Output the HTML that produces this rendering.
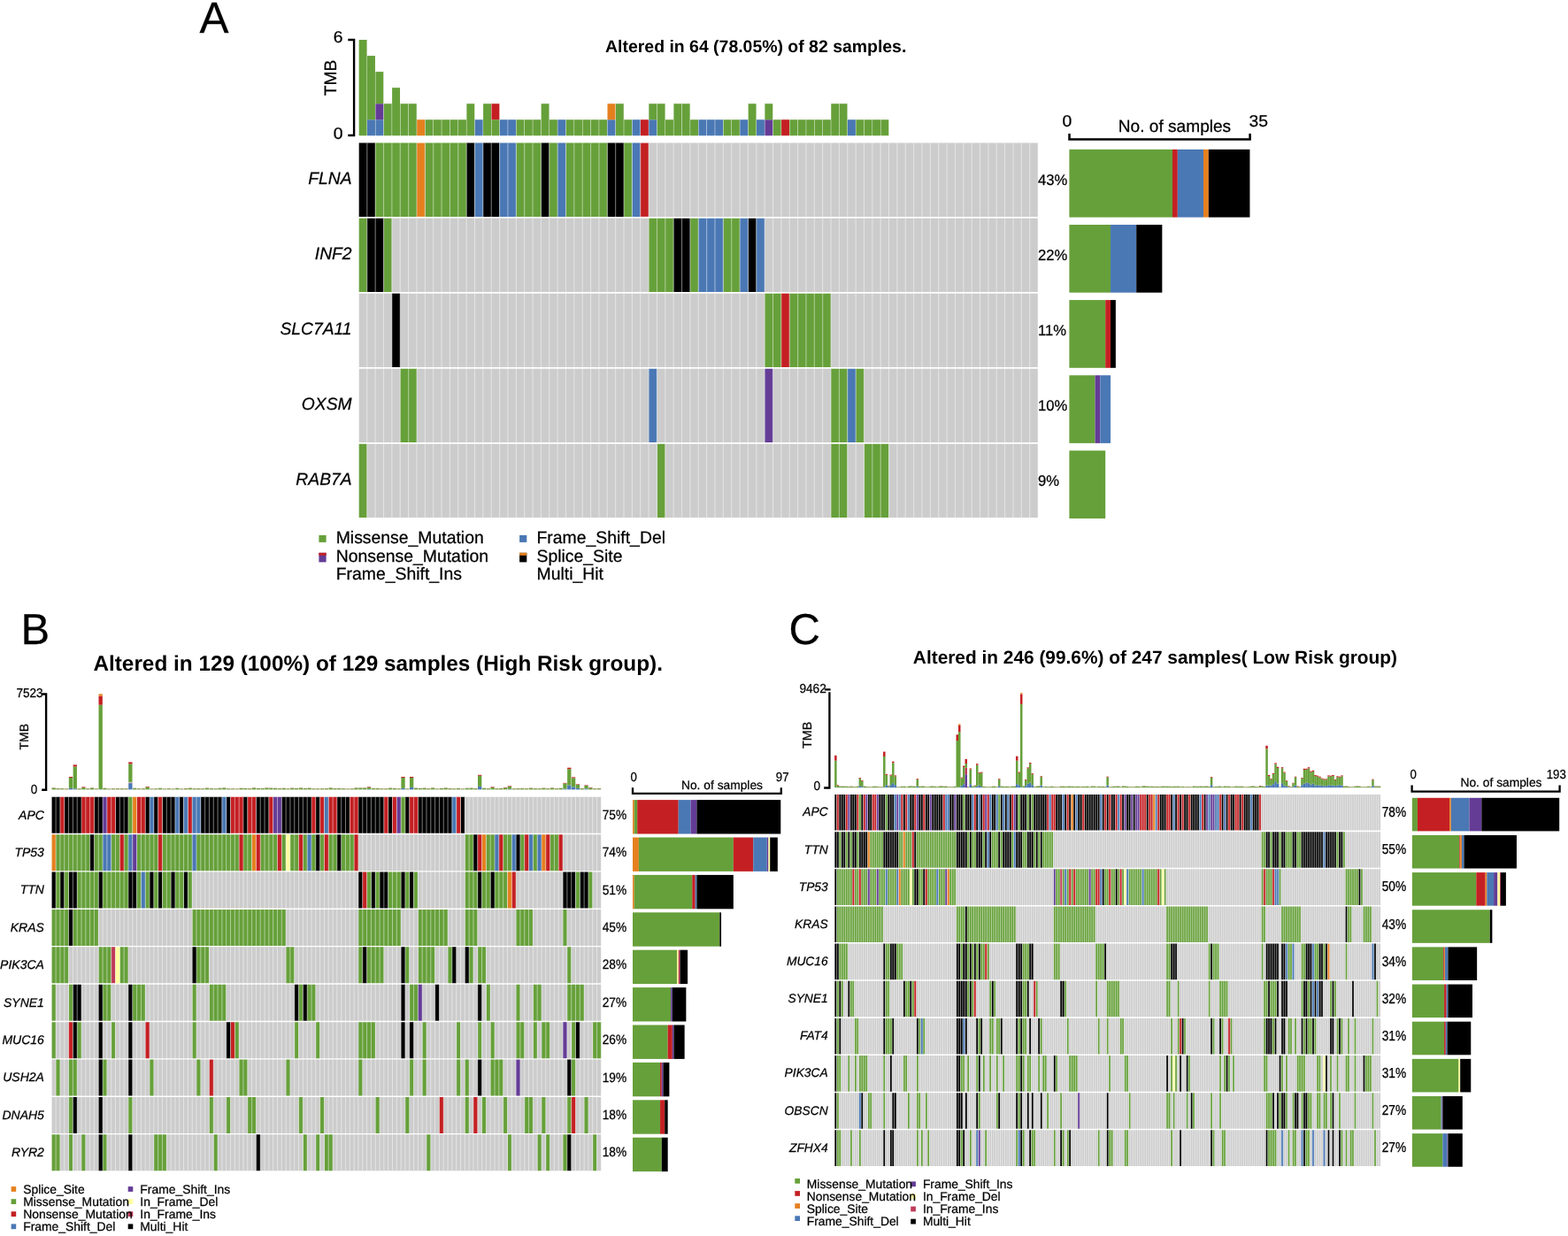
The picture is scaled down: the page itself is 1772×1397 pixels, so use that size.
<!DOCTYPE html>
<html lang="en"><head><meta charset="utf-8"><title>Oncoplots</title>
<style>html,body{margin:0;padding:0;background:#fff}svg{display:block}text{font-family:'Liberation Sans', Arial, Helvetica, sans-serif;fill:#000;stroke:#000;stroke-width:.25px;text-rendering:geometricPrecision}</style>
</head><body>
<svg width="1772" height="1397" viewBox="0 0 1772 1397">
<rect width="1772" height="1397" fill="#fff"/>
<g id="panelA">
<text x="225.6" y="37.2" font-size="49.5">A</text>
<text x="854.2" y="59" font-size="19.45" text-anchor="middle" font-weight="bold" style="stroke-width:0">Altered in 64 (78.05%) of 82 samples.</text>
<rect x="405.68" y="45" width="8.91" height="108.3" fill="#66A03A"/>
<rect x="415.04" y="135.25" width="8.91" height="18.05" fill="#4A78B4"/>
<rect x="415.04" y="63.05" width="8.91" height="72.2" fill="#66A03A"/>
<rect x="424.4" y="135.25" width="8.91" height="18.05" fill="#4A78B4"/>
<rect x="424.4" y="117.2" width="8.91" height="18.05" fill="#643C96"/>
<rect x="424.4" y="81.1" width="8.91" height="36.1" fill="#66A03A"/>
<rect x="433.76" y="117.2" width="8.91" height="36.1" fill="#66A03A"/>
<rect x="443.12" y="99.15" width="8.91" height="54.15" fill="#66A03A"/>
<rect x="452.48" y="117.2" width="8.91" height="36.1" fill="#66A03A"/>
<rect x="461.84" y="117.2" width="8.91" height="36.1" fill="#66A03A"/>
<rect x="471.2" y="135.25" width="8.91" height="18.05" fill="#E5801F"/>
<rect x="480.56" y="135.25" width="8.91" height="18.05" fill="#66A03A"/>
<rect x="489.92" y="135.25" width="8.91" height="18.05" fill="#66A03A"/>
<rect x="499.29" y="135.25" width="8.91" height="18.05" fill="#66A03A"/>
<rect x="508.65" y="135.25" width="8.91" height="18.05" fill="#66A03A"/>
<rect x="518.01" y="135.25" width="8.91" height="18.05" fill="#66A03A"/>
<rect x="527.37" y="117.2" width="8.91" height="36.1" fill="#66A03A"/>
<rect x="536.73" y="135.25" width="8.91" height="18.05" fill="#4A78B4"/>
<rect x="546.09" y="117.2" width="8.91" height="36.1" fill="#66A03A"/>
<rect x="555.45" y="135.25" width="8.91" height="18.05" fill="#66A03A"/>
<rect x="555.45" y="117.2" width="8.91" height="18.05" fill="#C42023"/>
<rect x="564.81" y="135.25" width="8.91" height="18.05" fill="#4A78B4"/>
<rect x="574.17" y="135.25" width="8.91" height="18.05" fill="#4A78B4"/>
<rect x="583.53" y="135.25" width="8.91" height="18.05" fill="#66A03A"/>
<rect x="592.9" y="135.25" width="8.91" height="18.05" fill="#66A03A"/>
<rect x="602.26" y="135.25" width="8.91" height="18.05" fill="#66A03A"/>
<rect x="611.62" y="117.2" width="8.91" height="36.1" fill="#66A03A"/>
<rect x="620.98" y="135.25" width="8.91" height="18.05" fill="#66A03A"/>
<rect x="630.34" y="135.25" width="8.91" height="18.05" fill="#4A78B4"/>
<rect x="639.7" y="135.25" width="8.91" height="18.05" fill="#66A03A"/>
<rect x="649.06" y="135.25" width="8.91" height="18.05" fill="#66A03A"/>
<rect x="658.42" y="135.25" width="8.91" height="18.05" fill="#66A03A"/>
<rect x="667.78" y="135.25" width="8.91" height="18.05" fill="#66A03A"/>
<rect x="677.14" y="135.25" width="8.91" height="18.05" fill="#66A03A"/>
<rect x="686.5" y="135.25" width="8.91" height="18.05" fill="#4A78B4"/>
<rect x="686.5" y="117.2" width="8.91" height="18.05" fill="#E5801F"/>
<rect x="695.87" y="117.2" width="8.91" height="36.1" fill="#66A03A"/>
<rect x="705.23" y="135.25" width="8.91" height="18.05" fill="#66A03A"/>
<rect x="714.59" y="135.25" width="8.91" height="18.05" fill="#4A78B4"/>
<rect x="723.95" y="135.25" width="8.91" height="18.05" fill="#C42023"/>
<rect x="733.31" y="135.25" width="8.91" height="18.05" fill="#4A78B4"/>
<rect x="733.31" y="117.2" width="8.91" height="18.05" fill="#66A03A"/>
<rect x="742.67" y="117.2" width="8.91" height="36.1" fill="#66A03A"/>
<rect x="752.03" y="135.25" width="8.91" height="18.05" fill="#66A03A"/>
<rect x="761.39" y="117.2" width="8.91" height="36.1" fill="#66A03A"/>
<rect x="770.75" y="117.2" width="8.91" height="36.1" fill="#66A03A"/>
<rect x="780.12" y="135.25" width="8.91" height="18.05" fill="#66A03A"/>
<rect x="789.48" y="135.25" width="8.91" height="18.05" fill="#4A78B4"/>
<rect x="798.84" y="135.25" width="8.91" height="18.05" fill="#4A78B4"/>
<rect x="808.2" y="135.25" width="8.91" height="18.05" fill="#4A78B4"/>
<rect x="817.56" y="135.25" width="8.91" height="18.05" fill="#66A03A"/>
<rect x="826.92" y="135.25" width="8.91" height="18.05" fill="#66A03A"/>
<rect x="836.28" y="135.25" width="8.91" height="18.05" fill="#4A78B4"/>
<rect x="845.64" y="117.2" width="8.91" height="36.1" fill="#66A03A"/>
<rect x="855" y="135.25" width="8.91" height="18.05" fill="#4A78B4"/>
<rect x="864.36" y="135.25" width="8.91" height="18.05" fill="#643C96"/>
<rect x="864.36" y="117.2" width="8.91" height="18.05" fill="#66A03A"/>
<rect x="873.73" y="135.25" width="8.91" height="18.05" fill="#66A03A"/>
<rect x="883.09" y="135.25" width="8.91" height="18.05" fill="#C42023"/>
<rect x="892.45" y="135.25" width="8.91" height="18.05" fill="#66A03A"/>
<rect x="901.81" y="135.25" width="8.91" height="18.05" fill="#66A03A"/>
<rect x="911.17" y="135.25" width="8.91" height="18.05" fill="#66A03A"/>
<rect x="920.53" y="135.25" width="8.91" height="18.05" fill="#66A03A"/>
<rect x="929.89" y="135.25" width="8.91" height="18.05" fill="#66A03A"/>
<rect x="939.25" y="117.2" width="8.91" height="36.1" fill="#66A03A"/>
<rect x="948.61" y="117.2" width="8.91" height="36.1" fill="#66A03A"/>
<rect x="957.97" y="135.25" width="8.91" height="18.05" fill="#4A78B4"/>
<rect x="967.34" y="135.25" width="8.91" height="18.05" fill="#66A03A"/>
<rect x="976.7" y="135.25" width="8.91" height="18.05" fill="#66A03A"/>
<rect x="986.06" y="135.25" width="8.91" height="18.05" fill="#66A03A"/>
<rect x="995.42" y="135.25" width="8.91" height="18.05" fill="#66A03A"/>
<path d="M393.3 45H400.1V153H393.3" stroke="#000" stroke-width="2.4" fill="none"/>
<text transform="translate(387.6 48.4) scale(1.050 1.000)" font-size="18.4" text-anchor="end">6</text>
<text transform="translate(387.6 156.6) scale(1.050 1.000)" font-size="18.4" text-anchor="end">0</text>
<text x="380" y="88" font-size="19.3" text-anchor="middle" transform="rotate(-90 380 88)">TMB</text>
<path d="M405.45 161.6h18.72v83.3h-18.72zM527.14 161.6h9.36v83.3h-9.36zM545.87 161.6h18.72v83.3h-18.72zM611.39 161.6h9.36v83.3h-9.36zM686.28 161.6h18.72v83.3h-18.72z" fill="#000000"/>
<path d="M424.17 161.6h46.81v83.3h-46.81zM480.34 161.6h46.81v83.3h-46.81zM583.31 161.6h28.08v83.3h-28.08zM620.75 161.6h9.36v83.3h-9.36zM639.48 161.6h46.81v83.3h-46.81zM705 161.6h9.36v83.3h-9.36z" fill="#66A03A"/>
<path d="M470.98 161.6h9.36v83.3h-9.36z" fill="#E5801F"/>
<path d="M536.5 161.6h9.36v83.3h-9.36zM564.59 161.6h18.72v83.3h-18.72zM630.11 161.6h9.36v83.3h-9.36zM714.36 161.6h9.36v83.3h-9.36z" fill="#4A78B4"/>
<path d="M723.72 161.6h9.36v83.3h-9.36z" fill="#C42023"/>
<path d="M733.09 161.6h439.97v83.3h-439.97z" fill="#CCCCCC"/>
<path d="M405.45 246.65h9.36v83.3h-9.36zM433.53 246.65h9.36v83.3h-9.36zM733.09 246.65h28.08v83.3h-28.08zM779.89 246.65h9.36v83.3h-9.36zM817.33 246.65h18.72v83.3h-18.72z" fill="#66A03A"/>
<path d="M414.81 246.65h18.72v83.3h-18.72zM761.17 246.65h18.72v83.3h-18.72zM845.42 246.65h9.36v83.3h-9.36z" fill="#000000"/>
<path d="M442.89 246.65h290.19v83.3h-290.19zM864.14 246.65h308.91v83.3h-308.91z" fill="#CCCCCC"/>
<path d="M789.25 246.65h28.08v83.3h-28.08zM836.06 246.65h9.36v83.3h-9.36zM854.78 246.65h9.36v83.3h-9.36z" fill="#4A78B4"/>
<path d="M405.45 331.7h37.44v83.3h-37.44zM452.25 331.7h411.88v83.3h-411.88zM939.03 331.7h234.03v83.3h-234.03z" fill="#CCCCCC"/>
<path d="M442.89 331.7h9.36v83.3h-9.36z" fill="#000000"/>
<path d="M864.14 331.7h18.72v83.3h-18.72zM892.22 331.7h46.81v83.3h-46.81z" fill="#66A03A"/>
<path d="M882.86 331.7h9.36v83.3h-9.36z" fill="#C42023"/>
<path d="M405.45 416.75h46.81v83.3h-46.81zM470.98 416.75h262.11v83.3h-262.11zM742.45 416.75h121.69v83.3h-121.69zM873.5 416.75h65.53v83.3h-65.53zM976.47 416.75h196.58v83.3h-196.58z" fill="#CCCCCC"/>
<path d="M452.25 416.75h18.72v83.3h-18.72zM939.03 416.75h18.72v83.3h-18.72zM967.11 416.75h9.36v83.3h-9.36z" fill="#66A03A"/>
<path d="M733.09 416.75h9.36v83.3h-9.36zM957.75 416.75h9.36v83.3h-9.36z" fill="#4A78B4"/>
<path d="M864.14 416.75h9.36v83.3h-9.36z" fill="#643C96"/>
<path d="M405.45 501.8h9.36v83.3h-9.36zM742.45 501.8h9.36v83.3h-9.36zM939.03 501.8h18.72v83.3h-18.72zM976.47 501.8h28.08v83.3h-28.08z" fill="#66A03A"/>
<path d="M414.81 501.8h327.64v83.3h-327.64zM751.81 501.8h187.22v83.3h-187.22zM957.75 501.8h18.72v83.3h-18.72zM1004.55 501.8h168.5v83.3h-168.5z" fill="#CCCCCC"/>
<path d="M405.45 161.6v423.5M414.81 161.6v423.5M424.17 161.6v423.5M433.53 161.6v423.5M442.89 161.6v423.5M452.25 161.6v423.5M461.62 161.6v423.5M470.98 161.6v423.5M480.34 161.6v423.5M489.7 161.6v423.5M499.06 161.6v423.5M508.42 161.6v423.5M517.78 161.6v423.5M527.14 161.6v423.5M536.5 161.6v423.5M545.87 161.6v423.5M555.23 161.6v423.5M564.59 161.6v423.5M573.95 161.6v423.5M583.31 161.6v423.5M592.67 161.6v423.5M602.03 161.6v423.5M611.39 161.6v423.5M620.75 161.6v423.5M630.11 161.6v423.5M639.48 161.6v423.5M648.84 161.6v423.5M658.2 161.6v423.5M667.56 161.6v423.5M676.92 161.6v423.5M686.28 161.6v423.5M695.64 161.6v423.5M705 161.6v423.5M714.36 161.6v423.5M723.72 161.6v423.5M733.09 161.6v423.5M742.45 161.6v423.5M751.81 161.6v423.5M761.17 161.6v423.5M770.53 161.6v423.5M779.89 161.6v423.5M789.25 161.6v423.5M798.61 161.6v423.5M807.97 161.6v423.5M817.33 161.6v423.5M826.69 161.6v423.5M836.06 161.6v423.5M845.42 161.6v423.5M854.78 161.6v423.5M864.14 161.6v423.5M873.5 161.6v423.5M882.86 161.6v423.5M892.22 161.6v423.5M901.58 161.6v423.5M910.94 161.6v423.5M920.31 161.6v423.5M929.67 161.6v423.5M939.03 161.6v423.5M948.39 161.6v423.5M957.75 161.6v423.5M967.11 161.6v423.5M976.47 161.6v423.5M985.83 161.6v423.5M995.19 161.6v423.5M1004.55 161.6v423.5M1013.91 161.6v423.5M1023.28 161.6v423.5M1032.64 161.6v423.5M1042 161.6v423.5M1051.36 161.6v423.5M1060.72 161.6v423.5M1070.08 161.6v423.5M1079.44 161.6v423.5M1088.8 161.6v423.5M1098.16 161.6v423.5M1107.53 161.6v423.5M1116.89 161.6v423.5M1126.25 161.6v423.5M1135.61 161.6v423.5M1144.97 161.6v423.5M1154.33 161.6v423.5M1163.69 161.6v423.5M1173.05 161.6v423.5" stroke="#fff" stroke-width="1.1" stroke-opacity="0.45" fill="none"/>
<text x="397.6" y="208.2" font-size="19.3" text-anchor="end" font-style="italic">FLNA</text>
<text x="397.6" y="293.25" font-size="19.3" text-anchor="end" font-style="italic">INF2</text>
<text x="397.6" y="378.3" font-size="19.3" text-anchor="end" font-style="italic">SLC7A11</text>
<text x="397.6" y="463.35" font-size="19.3" text-anchor="end" font-style="italic">OXSM</text>
<text x="397.6" y="548.4" font-size="19.3" text-anchor="end" font-style="italic">RAB7A</text>
<text transform="translate(1173 208.55) scale(0.985 1.000)" font-size="16.9">43%</text>
<text transform="translate(1173 293.6) scale(0.985 1.000)" font-size="16.9">22%</text>
<text transform="translate(1173 378.65) scale(0.985 1.000)" font-size="16.9">11%</text>
<text transform="translate(1173 463.7) scale(0.985 1.000)" font-size="16.9">10%</text>
<text transform="translate(1173 548.75) scale(0.985 1.000)" font-size="16.9">9%</text>
<path d="M1208.5 151V157.6H1412.6V151" stroke="#000" stroke-width="2.5" fill="none"/>
<text transform="translate(1205.8 143.2) scale(1.050 1.000)" font-size="18.4" text-anchor="middle">0</text>
<text transform="translate(1422.3 143.2) scale(1.050 1.000)" font-size="18.4" text-anchor="middle">35</text>
<text x="1327.5" y="149.4" font-size="19.1" text-anchor="middle">No. of samples</text>
<rect x="1208.4" y="168.9" width="116.6" height="76.7" fill="#66A03A"/>
<rect x="1325" y="168.9" width="5.83" height="76.7" fill="#C42023"/>
<rect x="1330.83" y="168.9" width="29.15" height="76.7" fill="#4A78B4"/>
<rect x="1359.98" y="168.9" width="5.83" height="76.7" fill="#E5801F"/>
<rect x="1365.81" y="168.9" width="46.64" height="76.7" fill="#000000"/>
<rect x="1208.4" y="254" width="46.64" height="76.7" fill="#66A03A"/>
<rect x="1255.04" y="254" width="29.15" height="76.7" fill="#4A78B4"/>
<rect x="1284.19" y="254" width="29.15" height="76.7" fill="#000000"/>
<rect x="1208.4" y="339.1" width="40.81" height="76.7" fill="#66A03A"/>
<rect x="1249.21" y="339.1" width="5.83" height="76.7" fill="#C42023"/>
<rect x="1255.04" y="339.1" width="5.83" height="76.7" fill="#000000"/>
<rect x="1208.4" y="424.2" width="29.15" height="76.7" fill="#66A03A"/>
<rect x="1237.55" y="424.2" width="5.83" height="76.7" fill="#643C96"/>
<rect x="1243.38" y="424.2" width="11.66" height="76.7" fill="#4A78B4"/>
<rect x="1208.4" y="509.3" width="40.81" height="76.7" fill="#66A03A"/>
<rect x="360.4" y="604.9" width="8.2" height="8" fill="#66A03A"/>
<rect x="360.4" y="624.8" width="8.2" height="10.6" fill="#643C96"/>
<rect x="360.4" y="624.8" width="8.2" height="3" fill="#C42023"/>
<rect x="587.1" y="604.9" width="8.2" height="8" fill="#4A78B4"/>
<rect x="587.1" y="624.8" width="8.2" height="10.6" fill="#000000"/>
<rect x="587.1" y="624.8" width="8.2" height="3" fill="#E5801F"/>
<text x="379.7" y="614.3" font-size="19.4">Missense_Mutation</text>
<text x="379.7" y="634.7" font-size="19.4">Nonsense_Mutation</text>
<text x="379.7" y="655.1" font-size="19.4">Frame_Shift_Ins</text>
<text x="606.5" y="614.3" font-size="19.4">Frame_Shift_Del</text>
<text x="606.5" y="634.7" font-size="19.4">Splice_Site</text>
<text x="606.5" y="655.1" font-size="19.4">Multi_Hit</text>
</g>
<g id="panelB">
<text x="23.5" y="727.5" font-size="49">B</text>
<text x="427.2" y="758.3" font-size="24.33" text-anchor="middle" font-weight="bold" style="stroke-width:0">Altered in 129 (100%) of 129 samples (High Risk group).</text>
<rect x="58.55" y="890.6" width="4.31" height="1.8" fill="#66A03A"/>
<rect x="58.55" y="890.4" width="4.31" height="0.2" fill="#C42023"/>
<rect x="63.36" y="891.2" width="4.31" height="1.2" fill="#66A03A"/>
<rect x="63.36" y="891" width="4.31" height="0.2" fill="#C42023"/>
<rect x="68.18" y="891.3" width="4.31" height="1.1" fill="#66A03A"/>
<rect x="68.18" y="891.1" width="4.31" height="0.2" fill="#C42023"/>
<rect x="72.99" y="891.6" width="4.31" height="0.8" fill="#66A03A"/>
<rect x="72.99" y="891.4" width="4.31" height="0.2" fill="#C42023"/>
<rect x="77.81" y="890.9" width="4.31" height="1.5" fill="#4A78B4"/>
<rect x="77.81" y="879" width="4.31" height="11.9" fill="#66A03A"/>
<rect x="77.81" y="878" width="4.31" height="1" fill="#C42023"/>
<rect x="82.62" y="891.4" width="4.31" height="1" fill="#4A78B4"/>
<rect x="82.62" y="866.4" width="4.31" height="25" fill="#66A03A"/>
<rect x="82.62" y="864.4" width="4.31" height="2" fill="#C42023"/>
<rect x="87.44" y="891.4" width="4.31" height="1" fill="#66A03A"/>
<rect x="87.44" y="891.2" width="4.31" height="0.2" fill="#C42023"/>
<rect x="92.25" y="890.1" width="4.31" height="2.3" fill="#66A03A"/>
<rect x="92.25" y="889.4" width="4.31" height="0.7" fill="#C42023"/>
<rect x="97.07" y="891.4" width="4.31" height="1" fill="#66A03A"/>
<rect x="97.07" y="891.2" width="4.31" height="0.2" fill="#C42023"/>
<rect x="101.88" y="890.6" width="4.31" height="1.8" fill="#66A03A"/>
<rect x="101.88" y="890.4" width="4.31" height="0.2" fill="#C42023"/>
<rect x="106.7" y="891.6" width="4.31" height="0.8" fill="#66A03A"/>
<rect x="106.7" y="891.4" width="4.31" height="0.2" fill="#C42023"/>
<rect x="111.51" y="892.1" width="4.31" height="0.3" fill="#4A78B4"/>
<rect x="111.51" y="796.7" width="4.31" height="95.4" fill="#66A03A"/>
<rect x="111.51" y="786.7" width="4.31" height="10" fill="#C42023"/>
<rect x="111.51" y="784.4" width="4.31" height="2.3" fill="#E5801F"/>
<rect x="116.33" y="891" width="4.31" height="1.4" fill="#66A03A"/>
<rect x="116.33" y="890.8" width="4.31" height="0.2" fill="#C42023"/>
<rect x="121.14" y="891.6" width="4.31" height="0.8" fill="#66A03A"/>
<rect x="121.14" y="891.4" width="4.31" height="0.2" fill="#C42023"/>
<rect x="125.96" y="891.4" width="4.31" height="1" fill="#66A03A"/>
<rect x="125.96" y="891.2" width="4.31" height="0.2" fill="#C42023"/>
<rect x="130.77" y="891.3" width="4.31" height="1.1" fill="#66A03A"/>
<rect x="130.77" y="891.1" width="4.31" height="0.2" fill="#C42023"/>
<rect x="135.59" y="891.3" width="4.31" height="1.1" fill="#66A03A"/>
<rect x="135.59" y="891.1" width="4.31" height="0.2" fill="#C42023"/>
<rect x="140.4" y="891.4" width="4.31" height="1" fill="#66A03A"/>
<rect x="140.4" y="891.2" width="4.31" height="0.2" fill="#C42023"/>
<rect x="145.21" y="885.4" width="4.31" height="7" fill="#4A78B4"/>
<rect x="145.21" y="884.4" width="4.31" height="1" fill="#643C96"/>
<rect x="145.21" y="883.9" width="4.31" height="0.5" fill="#FFFFA0"/>
<rect x="145.21" y="863.4" width="4.31" height="20.5" fill="#66A03A"/>
<rect x="145.21" y="861.4" width="4.31" height="2" fill="#C42023"/>
<rect x="150.03" y="891" width="4.31" height="1.4" fill="#66A03A"/>
<rect x="150.03" y="890.8" width="4.31" height="0.2" fill="#C42023"/>
<rect x="154.84" y="891.4" width="4.31" height="1" fill="#66A03A"/>
<rect x="154.84" y="891.2" width="4.31" height="0.2" fill="#C42023"/>
<rect x="159.66" y="891.3" width="4.31" height="1.1" fill="#66A03A"/>
<rect x="159.66" y="891.1" width="4.31" height="0.2" fill="#C42023"/>
<rect x="164.47" y="889.5" width="4.31" height="2.9" fill="#66A03A"/>
<rect x="164.47" y="888.9" width="4.31" height="0.6" fill="#C42023"/>
<rect x="169.29" y="891.6" width="4.31" height="0.8" fill="#66A03A"/>
<rect x="169.29" y="891.4" width="4.31" height="0.2" fill="#C42023"/>
<rect x="174.1" y="891.4" width="4.31" height="1" fill="#66A03A"/>
<rect x="174.1" y="891.2" width="4.31" height="0.2" fill="#C42023"/>
<rect x="178.92" y="891" width="4.31" height="1.4" fill="#66A03A"/>
<rect x="178.92" y="890.8" width="4.31" height="0.2" fill="#C42023"/>
<rect x="183.73" y="891.6" width="4.31" height="0.8" fill="#66A03A"/>
<rect x="183.73" y="891.4" width="4.31" height="0.2" fill="#C42023"/>
<rect x="188.55" y="891.3" width="4.31" height="1.1" fill="#66A03A"/>
<rect x="188.55" y="891.1" width="4.31" height="0.2" fill="#C42023"/>
<rect x="193.36" y="891.6" width="4.31" height="0.8" fill="#66A03A"/>
<rect x="193.36" y="891.4" width="4.31" height="0.2" fill="#C42023"/>
<rect x="198.18" y="891" width="4.31" height="1.4" fill="#66A03A"/>
<rect x="198.18" y="890.8" width="4.31" height="0.2" fill="#C42023"/>
<rect x="202.99" y="891.6" width="4.31" height="0.8" fill="#66A03A"/>
<rect x="202.99" y="891.4" width="4.31" height="0.2" fill="#C42023"/>
<rect x="207.81" y="891.2" width="4.31" height="1.2" fill="#66A03A"/>
<rect x="207.81" y="891" width="4.31" height="0.2" fill="#C42023"/>
<rect x="212.62" y="890.8" width="4.31" height="1.6" fill="#66A03A"/>
<rect x="212.62" y="890.6" width="4.31" height="0.2" fill="#C42023"/>
<rect x="217.44" y="891.3" width="4.31" height="1.1" fill="#66A03A"/>
<rect x="217.44" y="891.1" width="4.31" height="0.2" fill="#C42023"/>
<rect x="222.25" y="891.2" width="4.31" height="1.2" fill="#66A03A"/>
<rect x="222.25" y="891" width="4.31" height="0.2" fill="#C42023"/>
<rect x="227.06" y="891.4" width="4.31" height="1" fill="#66A03A"/>
<rect x="227.06" y="891.2" width="4.31" height="0.2" fill="#C42023"/>
<rect x="231.88" y="890.8" width="4.31" height="1.6" fill="#66A03A"/>
<rect x="231.88" y="890.6" width="4.31" height="0.2" fill="#C42023"/>
<rect x="236.69" y="891.2" width="4.31" height="1.2" fill="#66A03A"/>
<rect x="236.69" y="891" width="4.31" height="0.2" fill="#C42023"/>
<rect x="241.51" y="891.4" width="4.31" height="1" fill="#66A03A"/>
<rect x="241.51" y="891.2" width="4.31" height="0.2" fill="#C42023"/>
<rect x="246.32" y="891" width="4.31" height="1.4" fill="#66A03A"/>
<rect x="246.32" y="890.8" width="4.31" height="0.2" fill="#C42023"/>
<rect x="251.14" y="890.6" width="4.31" height="1.8" fill="#66A03A"/>
<rect x="251.14" y="890.4" width="4.31" height="0.2" fill="#C42023"/>
<rect x="255.95" y="891.4" width="4.31" height="1" fill="#66A03A"/>
<rect x="255.95" y="891.2" width="4.31" height="0.2" fill="#C42023"/>
<rect x="260.77" y="891.4" width="4.31" height="1" fill="#66A03A"/>
<rect x="260.77" y="891.2" width="4.31" height="0.2" fill="#C42023"/>
<rect x="265.58" y="891.6" width="4.31" height="0.8" fill="#66A03A"/>
<rect x="265.58" y="891.4" width="4.31" height="0.2" fill="#C42023"/>
<rect x="270.4" y="891" width="4.31" height="1.4" fill="#66A03A"/>
<rect x="270.4" y="890.8" width="4.31" height="0.2" fill="#C42023"/>
<rect x="275.21" y="891.1" width="4.31" height="1.3" fill="#66A03A"/>
<rect x="275.21" y="890.9" width="4.31" height="0.2" fill="#C42023"/>
<rect x="280.03" y="891.3" width="4.31" height="1.1" fill="#66A03A"/>
<rect x="280.03" y="891.1" width="4.31" height="0.2" fill="#C42023"/>
<rect x="284.84" y="890.6" width="4.31" height="1.8" fill="#66A03A"/>
<rect x="284.84" y="890.4" width="4.31" height="0.2" fill="#C42023"/>
<rect x="289.66" y="891.1" width="4.31" height="1.3" fill="#66A03A"/>
<rect x="289.66" y="890.9" width="4.31" height="0.2" fill="#C42023"/>
<rect x="294.47" y="891.1" width="4.31" height="1.3" fill="#66A03A"/>
<rect x="294.47" y="890.9" width="4.31" height="0.2" fill="#C42023"/>
<rect x="299.29" y="890.6" width="4.31" height="1.8" fill="#66A03A"/>
<rect x="299.29" y="890.4" width="4.31" height="0.2" fill="#C42023"/>
<rect x="304.1" y="890.8" width="4.31" height="1.6" fill="#66A03A"/>
<rect x="304.1" y="890.6" width="4.31" height="0.2" fill="#C42023"/>
<rect x="308.91" y="891" width="4.31" height="1.4" fill="#66A03A"/>
<rect x="308.91" y="890.8" width="4.31" height="0.2" fill="#C42023"/>
<rect x="313.73" y="891.2" width="4.31" height="1.2" fill="#66A03A"/>
<rect x="313.73" y="891" width="4.31" height="0.2" fill="#C42023"/>
<rect x="318.54" y="891" width="4.31" height="1.4" fill="#66A03A"/>
<rect x="318.54" y="890.8" width="4.31" height="0.2" fill="#C42023"/>
<rect x="323.36" y="891.4" width="4.31" height="1" fill="#66A03A"/>
<rect x="323.36" y="891.2" width="4.31" height="0.2" fill="#C42023"/>
<rect x="328.17" y="890.8" width="4.31" height="1.6" fill="#66A03A"/>
<rect x="328.17" y="890.6" width="4.31" height="0.2" fill="#C42023"/>
<rect x="332.99" y="891.1" width="4.31" height="1.3" fill="#66A03A"/>
<rect x="332.99" y="890.9" width="4.31" height="0.2" fill="#C42023"/>
<rect x="337.8" y="890.6" width="4.31" height="1.8" fill="#66A03A"/>
<rect x="337.8" y="890.4" width="4.31" height="0.2" fill="#C42023"/>
<rect x="342.62" y="891.1" width="4.31" height="1.3" fill="#66A03A"/>
<rect x="342.62" y="890.9" width="4.31" height="0.2" fill="#C42023"/>
<rect x="347.43" y="890.8" width="4.31" height="1.6" fill="#66A03A"/>
<rect x="347.43" y="890.6" width="4.31" height="0.2" fill="#C42023"/>
<rect x="352.25" y="891.4" width="4.31" height="1" fill="#66A03A"/>
<rect x="352.25" y="891.2" width="4.31" height="0.2" fill="#C42023"/>
<rect x="357.06" y="891.4" width="4.31" height="1" fill="#66A03A"/>
<rect x="357.06" y="891.2" width="4.31" height="0.2" fill="#C42023"/>
<rect x="361.88" y="891.3" width="4.31" height="1.1" fill="#66A03A"/>
<rect x="361.88" y="891.1" width="4.31" height="0.2" fill="#C42023"/>
<rect x="366.69" y="891.2" width="4.31" height="1.2" fill="#66A03A"/>
<rect x="366.69" y="891" width="4.31" height="0.2" fill="#C42023"/>
<rect x="371.51" y="890.6" width="4.31" height="1.8" fill="#66A03A"/>
<rect x="371.51" y="890.4" width="4.31" height="0.2" fill="#C42023"/>
<rect x="376.32" y="891.2" width="4.31" height="1.2" fill="#66A03A"/>
<rect x="376.32" y="891" width="4.31" height="0.2" fill="#C42023"/>
<rect x="381.13" y="891.1" width="4.31" height="1.3" fill="#66A03A"/>
<rect x="381.13" y="890.9" width="4.31" height="0.2" fill="#C42023"/>
<rect x="385.95" y="891.3" width="4.31" height="1.1" fill="#66A03A"/>
<rect x="385.95" y="891.1" width="4.31" height="0.2" fill="#C42023"/>
<rect x="390.76" y="891.6" width="4.31" height="0.8" fill="#66A03A"/>
<rect x="390.76" y="891.4" width="4.31" height="0.2" fill="#C42023"/>
<rect x="395.58" y="891.4" width="4.31" height="1" fill="#66A03A"/>
<rect x="395.58" y="891.2" width="4.31" height="0.2" fill="#C42023"/>
<rect x="400.39" y="890.6" width="4.31" height="1.8" fill="#66A03A"/>
<rect x="400.39" y="890.4" width="4.31" height="0.2" fill="#C42023"/>
<rect x="405.21" y="890.6" width="4.31" height="1.8" fill="#66A03A"/>
<rect x="405.21" y="890.4" width="4.31" height="0.2" fill="#C42023"/>
<rect x="410.02" y="890.6" width="4.31" height="1.8" fill="#66A03A"/>
<rect x="410.02" y="890.4" width="4.31" height="0.2" fill="#C42023"/>
<rect x="414.84" y="891.9" width="4.31" height="0.5" fill="#4A78B4"/>
<rect x="414.84" y="890" width="4.31" height="1.9" fill="#66A03A"/>
<rect x="414.84" y="889.4" width="4.31" height="0.6" fill="#C42023"/>
<rect x="419.65" y="891.1" width="4.31" height="1.3" fill="#66A03A"/>
<rect x="419.65" y="890.9" width="4.31" height="0.2" fill="#C42023"/>
<rect x="424.47" y="891.1" width="4.31" height="1.3" fill="#66A03A"/>
<rect x="424.47" y="890.9" width="4.31" height="0.2" fill="#C42023"/>
<rect x="429.28" y="891.4" width="4.31" height="1" fill="#66A03A"/>
<rect x="429.28" y="891.2" width="4.31" height="0.2" fill="#C42023"/>
<rect x="434.1" y="891.4" width="4.31" height="1" fill="#66A03A"/>
<rect x="434.1" y="891.2" width="4.31" height="0.2" fill="#C42023"/>
<rect x="438.91" y="890.8" width="4.31" height="1.6" fill="#66A03A"/>
<rect x="438.91" y="890.6" width="4.31" height="0.2" fill="#C42023"/>
<rect x="443.73" y="891.1" width="4.31" height="1.3" fill="#66A03A"/>
<rect x="443.73" y="890.9" width="4.31" height="0.2" fill="#C42023"/>
<rect x="448.54" y="891.4" width="4.31" height="1" fill="#66A03A"/>
<rect x="448.54" y="891.2" width="4.31" height="0.2" fill="#C42023"/>
<rect x="453.36" y="890.9" width="4.31" height="1.5" fill="#4A78B4"/>
<rect x="453.36" y="879" width="4.31" height="11.9" fill="#66A03A"/>
<rect x="453.36" y="878" width="4.31" height="1" fill="#C42023"/>
<rect x="458.17" y="891.6" width="4.31" height="0.8" fill="#66A03A"/>
<rect x="458.17" y="891.4" width="4.31" height="0.2" fill="#C42023"/>
<rect x="462.98" y="889.9" width="4.31" height="2.5" fill="#4A78B4"/>
<rect x="462.98" y="879" width="4.31" height="10.9" fill="#66A03A"/>
<rect x="462.98" y="878" width="4.31" height="1" fill="#C42023"/>
<rect x="467.8" y="890.8" width="4.31" height="1.6" fill="#66A03A"/>
<rect x="467.8" y="890.6" width="4.31" height="0.2" fill="#C42023"/>
<rect x="472.61" y="891.1" width="4.31" height="1.3" fill="#66A03A"/>
<rect x="472.61" y="890.9" width="4.31" height="0.2" fill="#C42023"/>
<rect x="477.43" y="890.8" width="4.31" height="1.6" fill="#66A03A"/>
<rect x="477.43" y="890.6" width="4.31" height="0.2" fill="#C42023"/>
<rect x="482.24" y="891.3" width="4.31" height="1.1" fill="#66A03A"/>
<rect x="482.24" y="891.1" width="4.31" height="0.2" fill="#C42023"/>
<rect x="487.06" y="890.6" width="4.31" height="1.8" fill="#66A03A"/>
<rect x="487.06" y="890.4" width="4.31" height="0.2" fill="#C42023"/>
<rect x="491.87" y="891.6" width="4.31" height="0.8" fill="#66A03A"/>
<rect x="491.87" y="891.4" width="4.31" height="0.2" fill="#C42023"/>
<rect x="496.69" y="891.1" width="4.31" height="1.3" fill="#66A03A"/>
<rect x="496.69" y="890.9" width="4.31" height="0.2" fill="#C42023"/>
<rect x="501.5" y="890.6" width="4.31" height="1.8" fill="#66A03A"/>
<rect x="501.5" y="890.4" width="4.31" height="0.2" fill="#C42023"/>
<rect x="506.32" y="891.2" width="4.31" height="1.2" fill="#66A03A"/>
<rect x="506.32" y="891" width="4.31" height="0.2" fill="#C42023"/>
<rect x="511.13" y="891.4" width="4.31" height="1" fill="#66A03A"/>
<rect x="511.13" y="891.2" width="4.31" height="0.2" fill="#C42023"/>
<rect x="515.95" y="891.1" width="4.31" height="1.3" fill="#66A03A"/>
<rect x="515.95" y="890.9" width="4.31" height="0.2" fill="#C42023"/>
<rect x="520.76" y="891.6" width="4.31" height="0.8" fill="#66A03A"/>
<rect x="520.76" y="891.4" width="4.31" height="0.2" fill="#C42023"/>
<rect x="525.58" y="891" width="4.31" height="1.4" fill="#66A03A"/>
<rect x="525.58" y="890.8" width="4.31" height="0.2" fill="#C42023"/>
<rect x="530.39" y="890.8" width="4.31" height="1.6" fill="#66A03A"/>
<rect x="530.39" y="890.6" width="4.31" height="0.2" fill="#C42023"/>
<rect x="535.21" y="891.2" width="4.31" height="1.2" fill="#66A03A"/>
<rect x="535.21" y="891" width="4.31" height="0.2" fill="#C42023"/>
<rect x="540.02" y="888.9" width="4.31" height="3.5" fill="#4A78B4"/>
<rect x="540.02" y="876.8" width="4.31" height="12.1" fill="#66A03A"/>
<rect x="540.02" y="875.8" width="4.31" height="1" fill="#C42023"/>
<rect x="544.83" y="891" width="4.31" height="1.4" fill="#66A03A"/>
<rect x="544.83" y="890.8" width="4.31" height="0.2" fill="#C42023"/>
<rect x="549.65" y="891.3" width="4.31" height="1.1" fill="#66A03A"/>
<rect x="549.65" y="891.1" width="4.31" height="0.2" fill="#C42023"/>
<rect x="554.46" y="890" width="4.31" height="2.4" fill="#66A03A"/>
<rect x="554.46" y="889.4" width="4.31" height="0.6" fill="#C42023"/>
<rect x="559.28" y="891.3" width="4.31" height="1.1" fill="#66A03A"/>
<rect x="559.28" y="891.1" width="4.31" height="0.2" fill="#C42023"/>
<rect x="564.09" y="891.1" width="4.31" height="1.3" fill="#66A03A"/>
<rect x="564.09" y="890.9" width="4.31" height="0.2" fill="#C42023"/>
<rect x="568.91" y="890.4" width="4.31" height="2" fill="#66A03A"/>
<rect x="568.91" y="889.9" width="4.31" height="0.5" fill="#C42023"/>
<rect x="573.72" y="891.9" width="4.31" height="0.5" fill="#4A78B4"/>
<rect x="573.72" y="889" width="4.31" height="2.9" fill="#66A03A"/>
<rect x="573.72" y="888.4" width="4.31" height="0.6" fill="#C42023"/>
<rect x="578.54" y="891.4" width="4.31" height="1" fill="#66A03A"/>
<rect x="578.54" y="891.2" width="4.31" height="0.2" fill="#C42023"/>
<rect x="583.35" y="891.2" width="4.31" height="1.2" fill="#66A03A"/>
<rect x="583.35" y="891" width="4.31" height="0.2" fill="#C42023"/>
<rect x="588.17" y="891.1" width="4.31" height="1.3" fill="#66A03A"/>
<rect x="588.17" y="890.9" width="4.31" height="0.2" fill="#C42023"/>
<rect x="592.98" y="891.3" width="4.31" height="1.1" fill="#66A03A"/>
<rect x="592.98" y="891.1" width="4.31" height="0.2" fill="#C42023"/>
<rect x="597.8" y="890.8" width="4.31" height="1.6" fill="#66A03A"/>
<rect x="597.8" y="890.6" width="4.31" height="0.2" fill="#C42023"/>
<rect x="602.61" y="891.2" width="4.31" height="1.2" fill="#66A03A"/>
<rect x="602.61" y="891" width="4.31" height="0.2" fill="#C42023"/>
<rect x="607.43" y="891.3" width="4.31" height="1.1" fill="#66A03A"/>
<rect x="607.43" y="891.1" width="4.31" height="0.2" fill="#C42023"/>
<rect x="612.24" y="890.8" width="4.31" height="1.6" fill="#66A03A"/>
<rect x="612.24" y="890.6" width="4.31" height="0.2" fill="#C42023"/>
<rect x="617.06" y="891.3" width="4.31" height="1.1" fill="#66A03A"/>
<rect x="617.06" y="891.1" width="4.31" height="0.2" fill="#C42023"/>
<rect x="621.87" y="890.6" width="4.31" height="1.8" fill="#66A03A"/>
<rect x="621.87" y="890.4" width="4.31" height="0.2" fill="#C42023"/>
<rect x="626.68" y="891.3" width="4.31" height="1.1" fill="#66A03A"/>
<rect x="626.68" y="891.1" width="4.31" height="0.2" fill="#C42023"/>
<rect x="631.5" y="891" width="4.31" height="1.4" fill="#66A03A"/>
<rect x="631.5" y="890.8" width="4.31" height="0.2" fill="#C42023"/>
<rect x="636.31" y="891.4" width="4.31" height="1" fill="#4A78B4"/>
<rect x="636.31" y="885.5" width="4.31" height="5.9" fill="#66A03A"/>
<rect x="636.31" y="884.9" width="4.31" height="0.6" fill="#C42023"/>
<rect x="641.13" y="887.4" width="4.31" height="5" fill="#4A78B4"/>
<rect x="641.13" y="869.2" width="4.31" height="18.2" fill="#66A03A"/>
<rect x="641.13" y="867.7" width="4.31" height="1.5" fill="#C42023"/>
<rect x="645.94" y="889.4" width="4.31" height="3" fill="#4A78B4"/>
<rect x="645.94" y="879.4" width="4.31" height="10" fill="#66A03A"/>
<rect x="645.94" y="878.4" width="4.31" height="1" fill="#C42023"/>
<rect x="650.76" y="890.9" width="4.31" height="1.5" fill="#4A78B4"/>
<rect x="650.76" y="887" width="4.31" height="3.9" fill="#66A03A"/>
<rect x="650.76" y="886.4" width="4.31" height="0.6" fill="#C42023"/>
<rect x="655.57" y="891.2" width="4.31" height="1.2" fill="#66A03A"/>
<rect x="655.57" y="891" width="4.31" height="0.2" fill="#C42023"/>
<rect x="660.39" y="891.4" width="4.31" height="1" fill="#4A78B4"/>
<rect x="660.39" y="887.9" width="4.31" height="3.5" fill="#66A03A"/>
<rect x="660.39" y="887.4" width="4.31" height="0.5" fill="#C42023"/>
<rect x="665.2" y="890.4" width="4.31" height="2" fill="#66A03A"/>
<rect x="665.2" y="889.9" width="4.31" height="0.5" fill="#C42023"/>
<rect x="670.02" y="891.4" width="4.31" height="1" fill="#66A03A"/>
<rect x="670.02" y="891.2" width="4.31" height="0.2" fill="#C42023"/>
<rect x="674.83" y="891.2" width="4.31" height="1.2" fill="#66A03A"/>
<rect x="674.83" y="891" width="4.31" height="0.2" fill="#C42023"/>
<path d="M47.2 784.5H52.1V892.8H47.2" stroke="#000" stroke-width="2.4" fill="none"/>
<text transform="translate(48.5 788.4) scale(0.940 1.000)" font-size="14.4" text-anchor="end">7523</text>
<text transform="translate(42.2 896.5) scale(0.940 1.000)" font-size="14.4" text-anchor="end">0</text>
<text x="31.8" y="832.7" font-size="14" text-anchor="middle" transform="rotate(-90 31.8 832.7)">TMB</text>
<path d="M58.3 900.75h9.63v41h-9.63zM72.74 900.75h19.26v41h-19.26zM106.45 900.75h9.63v41h-9.63zM130.52 900.75h14.44v41h-14.44zM164.22 900.75h4.81v41h-4.81zM173.85 900.75h4.81v41h-4.81zM183.48 900.75h14.44v41h-14.44zM202.74 900.75h4.81v41h-4.81zM226.81 900.75h24.07v41h-24.07zM255.7 900.75h4.81v41h-4.81zM274.96 900.75h4.81v41h-4.81zM289.41 900.75h14.44v41h-14.44zM318.29 900.75h33.7v41h-33.7zM356.81 900.75h4.81v41h-4.81zM380.88 900.75h14.44v41h-14.44zM404.96 900.75h28.89v41h-28.89zM438.66 900.75h4.81v41h-4.81zM457.92 900.75h4.81v41h-4.81zM472.36 900.75h38.52v41h-38.52zM520.51 900.75h4.81v41h-4.81z" fill="#000000"/>
<path d="M67.93 900.75h4.81v41h-4.81zM92 900.75h14.44v41h-14.44zM120.89 900.75h9.63v41h-9.63zM154.59 900.75h9.63v41h-9.63zM178.67 900.75h4.81v41h-4.81zM212.37 900.75h4.81v41h-4.81zM260.52 900.75h14.44v41h-14.44zM279.78 900.75h9.63v41h-9.63zM303.85 900.75h4.81v41h-4.81zM352 900.75h4.81v41h-4.81zM361.63 900.75h4.81v41h-4.81zM371.26 900.75h9.63v41h-9.63zM395.33 900.75h9.63v41h-9.63zM433.85 900.75h4.81v41h-4.81zM443.48 900.75h4.81v41h-4.81zM462.73 900.75h9.63v41h-9.63zM515.7 900.75h4.81v41h-4.81z" fill="#C42023"/>
<path d="M116.08 900.75h4.81v41h-4.81zM308.66 900.75h9.63v41h-9.63zM448.29 900.75h4.81v41h-4.81z" fill="#643C96"/>
<path d="M144.96 900.75h4.81v41h-4.81zM453.11 900.75h4.81v41h-4.81z" fill="#66A03A"/>
<path d="M149.78 900.75h4.81v41h-4.81z" fill="#E5801F"/>
<path d="M169.04 900.75h4.81v41h-4.81zM197.93 900.75h4.81v41h-4.81zM207.56 900.75h4.81v41h-4.81zM217.19 900.75h9.63v41h-9.63zM250.89 900.75h4.81v41h-4.81zM366.44 900.75h4.81v41h-4.81zM510.88 900.75h4.81v41h-4.81z" fill="#4A78B4"/>
<path d="M525.33 900.75h154.07v41h-154.07z" fill="#CCCCCC"/>
<path d="M58.3 943.15h4.81v41h-4.81zM284.59 943.15h4.81v41h-4.81zM544.58 943.15h4.81v41h-4.81zM611.99 943.15h4.81v41h-4.81z" fill="#E5801F"/>
<path d="M63.11 943.15h38.52v41h-38.52zM106.45 943.15h9.63v41h-9.63zM125.71 943.15h9.63v41h-9.63zM140.15 943.15h4.81v41h-4.81zM154.59 943.15h24.07v41h-24.07zM183.48 943.15h33.7v41h-33.7zM222 943.15h48.15v41h-48.15zM274.96 943.15h9.63v41h-9.63zM294.22 943.15h19.26v41h-19.26zM318.29 943.15h4.81v41h-4.81zM327.92 943.15h9.63v41h-9.63zM342.37 943.15h4.81v41h-4.81zM352 943.15h4.81v41h-4.81zM361.63 943.15h4.81v41h-4.81zM371.26 943.15h9.63v41h-9.63zM385.7 943.15h14.44v41h-14.44zM525.33 943.15h9.63v41h-9.63zM549.4 943.15h9.63v41h-9.63zM568.66 943.15h9.63v41h-9.63zM587.92 943.15h4.81v41h-4.81zM602.36 943.15h4.81v41h-4.81zM621.62 943.15h9.63v41h-9.63z" fill="#66A03A"/>
<path d="M101.63 943.15h4.81v41h-4.81zM356.81 943.15h4.81v41h-4.81zM380.88 943.15h4.81v41h-4.81zM534.96 943.15h4.81v41h-4.81zM583.1 943.15h4.81v41h-4.81z" fill="#000000"/>
<path d="M116.08 943.15h9.63v41h-9.63zM144.96 943.15h4.81v41h-4.81zM217.19 943.15h4.81v41h-4.81zM347.18 943.15h4.81v41h-4.81zM559.03 943.15h4.81v41h-4.81zM578.29 943.15h4.81v41h-4.81zM597.55 943.15h4.81v41h-4.81zM607.18 943.15h4.81v41h-4.81z" fill="#4A78B4"/>
<path d="M135.34 943.15h4.81v41h-4.81zM178.67 943.15h4.81v41h-4.81zM270.15 943.15h4.81v41h-4.81zM289.41 943.15h4.81v41h-4.81zM313.48 943.15h4.81v41h-4.81zM337.55 943.15h4.81v41h-4.81zM366.44 943.15h4.81v41h-4.81zM400.14 943.15h4.81v41h-4.81zM539.77 943.15h4.81v41h-4.81zM563.84 943.15h4.81v41h-4.81zM592.73 943.15h4.81v41h-4.81zM616.81 943.15h4.81v41h-4.81zM631.25 943.15h4.81v41h-4.81z" fill="#C42023"/>
<path d="M149.78 943.15h4.81v41h-4.81z" fill="#643C96"/>
<path d="M323.11 943.15h4.81v41h-4.81z" fill="#FFFFA0"/>
<path d="M404.96 943.15h120.37v41h-120.37zM636.06 943.15h43.33v41h-43.33z" fill="#CCCCCC"/>
<path d="M58.3 985.55h4.81v41h-4.81zM67.93 985.55h4.81v41h-4.81zM77.56 985.55h9.63v41h-9.63zM111.26 985.55h4.81v41h-4.81zM144.96 985.55h9.63v41h-9.63zM169.04 985.55h4.81v41h-4.81zM178.67 985.55h4.81v41h-4.81zM193.11 985.55h4.81v41h-4.81zM207.56 985.55h4.81v41h-4.81zM404.96 985.55h4.81v41h-4.81zM419.4 985.55h4.81v41h-4.81zM429.03 985.55h9.63v41h-9.63zM453.11 985.55h4.81v41h-4.81zM462.73 985.55h4.81v41h-4.81zM539.77 985.55h4.81v41h-4.81zM554.21 985.55h4.81v41h-4.81zM636.06 985.55h14.44v41h-14.44zM655.32 985.55h9.63v41h-9.63z" fill="#000000"/>
<path d="M63.11 985.55h4.81v41h-4.81zM72.74 985.55h4.81v41h-4.81zM87.19 985.55h24.07v41h-24.07zM116.08 985.55h28.89v41h-28.89zM154.59 985.55h4.81v41h-4.81zM164.22 985.55h4.81v41h-4.81zM173.85 985.55h4.81v41h-4.81zM183.48 985.55h9.63v41h-9.63zM197.93 985.55h9.63v41h-9.63zM212.37 985.55h4.81v41h-4.81zM414.59 985.55h4.81v41h-4.81zM424.22 985.55h4.81v41h-4.81zM438.66 985.55h14.44v41h-14.44zM457.92 985.55h4.81v41h-4.81zM467.55 985.55h4.81v41h-4.81zM525.33 985.55h14.44v41h-14.44zM544.58 985.55h9.63v41h-9.63zM559.03 985.55h14.44v41h-14.44zM650.51 985.55h4.81v41h-4.81zM664.95 985.55h4.81v41h-4.81z" fill="#66A03A"/>
<path d="M159.41 985.55h4.81v41h-4.81z" fill="#4A78B4"/>
<path d="M217.19 985.55h187.77v41h-187.77zM472.36 985.55h52.96v41h-52.96zM583.1 985.55h52.96v41h-52.96zM669.77 985.55h9.63v41h-9.63z" fill="#CCCCCC"/>
<path d="M409.77 985.55h4.81v41h-4.81zM578.29 985.55h4.81v41h-4.81z" fill="#C42023"/>
<path d="M573.47 985.55h4.81v41h-4.81z" fill="#E5801F"/>
<path d="M58.3 1027.95h19.26v41h-19.26zM82.37 1027.95h28.89v41h-28.89zM217.19 1027.95h105.92v41h-105.92zM404.96 1027.95h48.15v41h-48.15zM472.36 1027.95h33.7v41h-33.7zM525.33 1027.95h14.44v41h-14.44zM583.1 1027.95h19.26v41h-19.26zM636.06 1027.95h4.81v41h-4.81z" fill="#66A03A"/>
<path d="M77.56 1027.95h4.81v41h-4.81z" fill="#000000"/>
<path d="M111.26 1027.95h105.92v41h-105.92zM323.11 1027.95h81.85v41h-81.85zM453.11 1027.95h19.26v41h-19.26zM506.07 1027.95h19.26v41h-19.26zM539.77 1027.95h43.33v41h-43.33zM602.36 1027.95h33.7v41h-33.7zM640.88 1027.95h38.52v41h-38.52z" fill="#CCCCCC"/>
<path d="M58.3 1070.35h19.26v41h-19.26zM111.26 1070.35h14.44v41h-14.44zM135.34 1070.35h9.63v41h-9.63zM222 1070.35h14.44v41h-14.44zM323.11 1070.35h9.63v41h-9.63zM404.96 1070.35h4.81v41h-4.81zM414.59 1070.35h19.26v41h-19.26zM457.92 1070.35h4.81v41h-4.81zM472.36 1070.35h19.26v41h-19.26zM506.07 1070.35h4.81v41h-4.81zM530.14 1070.35h4.81v41h-4.81zM539.77 1070.35h9.63v41h-9.63zM640.88 1070.35h4.81v41h-4.81z" fill="#66A03A"/>
<path d="M77.56 1070.35h33.7v41h-33.7zM144.96 1070.35h72.22v41h-72.22zM236.44 1070.35h86.66v41h-86.66zM332.74 1070.35h72.22v41h-72.22zM433.85 1070.35h19.26v41h-19.26zM462.73 1070.35h9.63v41h-9.63zM491.62 1070.35h14.44v41h-14.44zM515.7 1070.35h9.63v41h-9.63zM534.96 1070.35h4.81v41h-4.81zM549.4 1070.35h91.48v41h-91.48zM645.69 1070.35h33.7v41h-33.7z" fill="#CCCCCC"/>
<path d="M125.71 1070.35h4.81v41h-4.81z" fill="#BE3A58"/>
<path d="M130.52 1070.35h4.81v41h-4.81z" fill="#FFFFA0"/>
<path d="M217.19 1070.35h4.81v41h-4.81zM409.77 1070.35h4.81v41h-4.81zM453.11 1070.35h4.81v41h-4.81zM510.88 1070.35h4.81v41h-4.81zM525.33 1070.35h4.81v41h-4.81z" fill="#000000"/>
<path d="M58.3 1112.75h4.81v41h-4.81zM77.56 1112.75h4.81v41h-4.81zM116.08 1112.75h9.63v41h-9.63zM149.78 1112.75h14.44v41h-14.44zM217.19 1112.75h4.81v41h-4.81zM236.44 1112.75h19.26v41h-19.26zM337.55 1112.75h4.81v41h-4.81zM347.18 1112.75h9.63v41h-9.63zM462.73 1112.75h9.63v41h-9.63zM549.4 1112.75h4.81v41h-4.81zM583.1 1112.75h4.81v41h-4.81zM602.36 1112.75h9.63v41h-9.63zM640.88 1112.75h19.26v41h-19.26z" fill="#66A03A"/>
<path d="M63.11 1112.75h14.44v41h-14.44zM92 1112.75h19.26v41h-19.26zM125.71 1112.75h19.26v41h-19.26zM164.22 1112.75h52.96v41h-52.96zM222 1112.75h14.44v41h-14.44zM255.7 1112.75h77.04v41h-77.04zM356.81 1112.75h96.29v41h-96.29zM457.92 1112.75h4.81v41h-4.81zM477.18 1112.75h14.44v41h-14.44zM496.44 1112.75h43.33v41h-43.33zM544.58 1112.75h4.81v41h-4.81zM554.21 1112.75h28.89v41h-28.89zM587.92 1112.75h14.44v41h-14.44zM611.99 1112.75h28.89v41h-28.89zM660.14 1112.75h19.26v41h-19.26z" fill="#CCCCCC"/>
<path d="M82.37 1112.75h9.63v41h-9.63zM111.26 1112.75h4.81v41h-4.81zM144.96 1112.75h4.81v41h-4.81zM332.74 1112.75h4.81v41h-4.81zM342.37 1112.75h4.81v41h-4.81zM453.11 1112.75h4.81v41h-4.81zM491.62 1112.75h4.81v41h-4.81zM539.77 1112.75h4.81v41h-4.81z" fill="#000000"/>
<path d="M472.36 1112.75h4.81v41h-4.81z" fill="#643C96"/>
<path d="M58.3 1155.15h4.81v41h-4.81zM87.19 1155.15h4.81v41h-4.81zM125.71 1155.15h4.81v41h-4.81zM217.19 1155.15h4.81v41h-4.81zM265.33 1155.15h4.81v41h-4.81zM332.74 1155.15h4.81v41h-4.81zM356.81 1155.15h4.81v41h-4.81zM404.96 1155.15h19.26v41h-19.26zM477.18 1155.15h4.81v41h-4.81zM515.7 1155.15h4.81v41h-4.81zM539.77 1155.15h4.81v41h-4.81zM554.21 1155.15h4.81v41h-4.81zM583.1 1155.15h9.63v41h-9.63zM602.36 1155.15h4.81v41h-4.81zM611.99 1155.15h9.63v41h-9.63zM645.69 1155.15h4.81v41h-4.81zM669.77 1155.15h9.63v41h-9.63z" fill="#66A03A"/>
<path d="M63.11 1155.15h14.44v41h-14.44zM92 1155.15h19.26v41h-19.26zM116.08 1155.15h9.63v41h-9.63zM130.52 1155.15h14.44v41h-14.44zM149.78 1155.15h14.44v41h-14.44zM169.04 1155.15h48.15v41h-48.15zM222 1155.15h33.7v41h-33.7zM270.15 1155.15h62.59v41h-62.59zM337.55 1155.15h19.26v41h-19.26zM361.63 1155.15h43.33v41h-43.33zM424.22 1155.15h28.89v41h-28.89zM457.92 1155.15h4.81v41h-4.81zM467.55 1155.15h9.63v41h-9.63zM481.99 1155.15h33.7v41h-33.7zM520.51 1155.15h19.26v41h-19.26zM544.58 1155.15h9.63v41h-9.63zM559.03 1155.15h24.07v41h-24.07zM592.73 1155.15h9.63v41h-9.63zM607.18 1155.15h4.81v41h-4.81zM621.62 1155.15h14.44v41h-14.44zM640.88 1155.15h4.81v41h-4.81zM655.32 1155.15h14.44v41h-14.44z" fill="#CCCCCC"/>
<path d="M77.56 1155.15h4.81v41h-4.81zM164.22 1155.15h4.81v41h-4.81zM260.52 1155.15h4.81v41h-4.81z" fill="#C42023"/>
<path d="M82.37 1155.15h4.81v41h-4.81zM111.26 1155.15h4.81v41h-4.81zM144.96 1155.15h4.81v41h-4.81zM255.7 1155.15h4.81v41h-4.81zM453.11 1155.15h4.81v41h-4.81zM462.73 1155.15h4.81v41h-4.81zM650.51 1155.15h4.81v41h-4.81z" fill="#000000"/>
<path d="M636.06 1155.15h4.81v41h-4.81z" fill="#643C96"/>
<path d="M58.3 1197.55h4.81v41h-4.81zM67.93 1197.55h9.63v41h-9.63zM87.19 1197.55h24.07v41h-24.07zM120.89 1197.55h24.07v41h-24.07zM149.78 1197.55h19.26v41h-19.26zM173.85 1197.55h48.15v41h-48.15zM226.81 1197.55h9.63v41h-9.63zM241.26 1197.55h28.89v41h-28.89zM279.78 1197.55h43.33v41h-43.33zM327.92 1197.55h77.04v41h-77.04zM409.77 1197.55h52.96v41h-52.96zM467.55 1197.55h9.63v41h-9.63zM481.99 1197.55h33.7v41h-33.7zM520.51 1197.55h4.81v41h-4.81zM530.14 1197.55h9.63v41h-9.63zM544.58 1197.55h9.63v41h-9.63zM568.66 1197.55h14.44v41h-14.44zM587.92 1197.55h52.96v41h-52.96zM650.51 1197.55h28.89v41h-28.89z" fill="#CCCCCC"/>
<path d="M63.11 1197.55h4.81v41h-4.81zM77.56 1197.55h9.63v41h-9.63zM116.08 1197.55h4.81v41h-4.81zM169.04 1197.55h4.81v41h-4.81zM222 1197.55h4.81v41h-4.81zM270.15 1197.55h9.63v41h-9.63zM323.11 1197.55h4.81v41h-4.81zM404.96 1197.55h4.81v41h-4.81zM462.73 1197.55h4.81v41h-4.81zM477.18 1197.55h4.81v41h-4.81zM515.7 1197.55h4.81v41h-4.81zM525.33 1197.55h4.81v41h-4.81zM554.21 1197.55h14.44v41h-14.44zM645.69 1197.55h4.81v41h-4.81z" fill="#66A03A"/>
<path d="M111.26 1197.55h4.81v41h-4.81zM144.96 1197.55h4.81v41h-4.81zM539.77 1197.55h4.81v41h-4.81zM640.88 1197.55h4.81v41h-4.81z" fill="#000000"/>
<path d="M236.44 1197.55h4.81v41h-4.81z" fill="#C42023"/>
<path d="M583.1 1197.55h4.81v41h-4.81z" fill="#643C96"/>
<path d="M58.3 1239.95h19.26v41h-19.26zM87.19 1239.95h24.07v41h-24.07zM116.08 1239.95h28.89v41h-28.89zM149.78 1239.95h86.66v41h-86.66zM241.26 1239.95h14.44v41h-14.44zM260.52 1239.95h19.26v41h-19.26zM289.41 1239.95h48.15v41h-48.15zM342.37 1239.95h19.26v41h-19.26zM366.44 1239.95h57.78v41h-57.78zM429.03 1239.95h28.89v41h-28.89zM462.73 1239.95h33.7v41h-33.7zM501.25 1239.95h24.07v41h-24.07zM530.14 1239.95h4.81v41h-4.81zM539.77 1239.95h4.81v41h-4.81zM549.4 1239.95h19.26v41h-19.26zM573.47 1239.95h19.26v41h-19.26zM602.36 1239.95h9.63v41h-9.63zM616.81 1239.95h24.07v41h-24.07zM650.51 1239.95h9.63v41h-9.63zM664.95 1239.95h14.44v41h-14.44z" fill="#CCCCCC"/>
<path d="M77.56 1239.95h4.81v41h-4.81zM144.96 1239.95h4.81v41h-4.81zM236.44 1239.95h4.81v41h-4.81zM255.7 1239.95h4.81v41h-4.81zM279.78 1239.95h9.63v41h-9.63zM337.55 1239.95h4.81v41h-4.81zM361.63 1239.95h4.81v41h-4.81zM424.22 1239.95h4.81v41h-4.81zM457.92 1239.95h4.81v41h-4.81zM525.33 1239.95h4.81v41h-4.81zM544.58 1239.95h4.81v41h-4.81zM568.66 1239.95h4.81v41h-4.81zM592.73 1239.95h9.63v41h-9.63zM611.99 1239.95h4.81v41h-4.81zM640.88 1239.95h4.81v41h-4.81zM660.14 1239.95h4.81v41h-4.81z" fill="#66A03A"/>
<path d="M82.37 1239.95h4.81v41h-4.81zM111.26 1239.95h4.81v41h-4.81z" fill="#000000"/>
<path d="M496.44 1239.95h4.81v41h-4.81zM534.96 1239.95h4.81v41h-4.81zM645.69 1239.95h4.81v41h-4.81z" fill="#C42023"/>
<path d="M58.3 1282.35h9.63v41h-9.63zM77.56 1282.35h4.81v41h-4.81zM92 1282.35h4.81v41h-4.81zM116.08 1282.35h4.81v41h-4.81zM173.85 1282.35h14.44v41h-14.44zM241.26 1282.35h4.81v41h-4.81zM342.37 1282.35h4.81v41h-4.81zM356.81 1282.35h4.81v41h-4.81zM366.44 1282.35h9.63v41h-9.63zM481.99 1282.35h4.81v41h-4.81zM573.47 1282.35h4.81v41h-4.81zM607.18 1282.35h4.81v41h-4.81zM616.81 1282.35h4.81v41h-4.81zM636.06 1282.35h4.81v41h-4.81zM669.77 1282.35h4.81v41h-4.81z" fill="#66A03A"/>
<path d="M67.93 1282.35h9.63v41h-9.63zM82.37 1282.35h9.63v41h-9.63zM96.82 1282.35h14.44v41h-14.44zM120.89 1282.35h24.07v41h-24.07zM149.78 1282.35h24.07v41h-24.07zM188.3 1282.35h52.96v41h-52.96zM246.07 1282.35h43.33v41h-43.33zM294.22 1282.35h48.15v41h-48.15zM347.18 1282.35h9.63v41h-9.63zM361.63 1282.35h4.81v41h-4.81zM376.07 1282.35h105.92v41h-105.92zM486.81 1282.35h86.66v41h-86.66zM578.29 1282.35h28.89v41h-28.89zM611.99 1282.35h4.81v41h-4.81zM621.62 1282.35h14.44v41h-14.44zM645.69 1282.35h24.07v41h-24.07zM674.58 1282.35h4.81v41h-4.81z" fill="#CCCCCC"/>
<path d="M111.26 1282.35h4.81v41h-4.81zM144.96 1282.35h4.81v41h-4.81zM289.41 1282.35h4.81v41h-4.81zM640.88 1282.35h4.81v41h-4.81z" fill="#000000"/>
<path d="M58.3 900.75v422.6M63.11 900.75v422.6M67.93 900.75v422.6M72.74 900.75v422.6M77.56 900.75v422.6M82.37 900.75v422.6M87.19 900.75v422.6M92 900.75v422.6M96.82 900.75v422.6M101.63 900.75v422.6M106.45 900.75v422.6M111.26 900.75v422.6M116.08 900.75v422.6M120.89 900.75v422.6M125.71 900.75v422.6M130.52 900.75v422.6M135.34 900.75v422.6M140.15 900.75v422.6M144.96 900.75v422.6M149.78 900.75v422.6M154.59 900.75v422.6M159.41 900.75v422.6M164.22 900.75v422.6M169.04 900.75v422.6M173.85 900.75v422.6M178.67 900.75v422.6M183.48 900.75v422.6M188.3 900.75v422.6M193.11 900.75v422.6M197.93 900.75v422.6M202.74 900.75v422.6M207.56 900.75v422.6M212.37 900.75v422.6M217.19 900.75v422.6M222 900.75v422.6M226.81 900.75v422.6M231.63 900.75v422.6M236.44 900.75v422.6M241.26 900.75v422.6M246.07 900.75v422.6M250.89 900.75v422.6M255.7 900.75v422.6M260.52 900.75v422.6M265.33 900.75v422.6M270.15 900.75v422.6M274.96 900.75v422.6M279.78 900.75v422.6M284.59 900.75v422.6M289.41 900.75v422.6M294.22 900.75v422.6M299.04 900.75v422.6M303.85 900.75v422.6M308.66 900.75v422.6M313.48 900.75v422.6M318.29 900.75v422.6M323.11 900.75v422.6M327.92 900.75v422.6M332.74 900.75v422.6M337.55 900.75v422.6M342.37 900.75v422.6M347.18 900.75v422.6M352 900.75v422.6M356.81 900.75v422.6M361.63 900.75v422.6M366.44 900.75v422.6M371.26 900.75v422.6M376.07 900.75v422.6M380.88 900.75v422.6M385.7 900.75v422.6M390.51 900.75v422.6M395.33 900.75v422.6M400.14 900.75v422.6M404.96 900.75v422.6M409.77 900.75v422.6M414.59 900.75v422.6M419.4 900.75v422.6M424.22 900.75v422.6M429.03 900.75v422.6M433.85 900.75v422.6M438.66 900.75v422.6M443.48 900.75v422.6M448.29 900.75v422.6M453.11 900.75v422.6M457.92 900.75v422.6M462.73 900.75v422.6M467.55 900.75v422.6M472.36 900.75v422.6M477.18 900.75v422.6M481.99 900.75v422.6M486.81 900.75v422.6M491.62 900.75v422.6M496.44 900.75v422.6M501.25 900.75v422.6M506.07 900.75v422.6M510.88 900.75v422.6M515.7 900.75v422.6M520.51 900.75v422.6M525.33 900.75v422.6M530.14 900.75v422.6M534.96 900.75v422.6M539.77 900.75v422.6M544.58 900.75v422.6M549.4 900.75v422.6M554.21 900.75v422.6M559.03 900.75v422.6M563.84 900.75v422.6M568.66 900.75v422.6M573.47 900.75v422.6M578.29 900.75v422.6M583.1 900.75v422.6M587.92 900.75v422.6M592.73 900.75v422.6M597.55 900.75v422.6M602.36 900.75v422.6M607.18 900.75v422.6M611.99 900.75v422.6M616.81 900.75v422.6M621.62 900.75v422.6M626.43 900.75v422.6M631.25 900.75v422.6M636.06 900.75v422.6M640.88 900.75v422.6M645.69 900.75v422.6M650.51 900.75v422.6M655.32 900.75v422.6M660.14 900.75v422.6M664.95 900.75v422.6M669.77 900.75v422.6M674.58 900.75v422.6M679.4 900.75v422.6" stroke="#fff" stroke-width="1" stroke-opacity="0.48" fill="none"/>
<text x="49.9" y="925.5" font-size="14" text-anchor="end" font-style="italic">APC</text>
<text x="49.9" y="967.9" font-size="14" text-anchor="end" font-style="italic">TP53</text>
<text x="49.9" y="1010.3" font-size="14" text-anchor="end" font-style="italic">TTN</text>
<text x="49.9" y="1052.7" font-size="14" text-anchor="end" font-style="italic">KRAS</text>
<text x="49.9" y="1095.1" font-size="14" text-anchor="end" font-style="italic">PIK3CA</text>
<text x="49.9" y="1137.5" font-size="14" text-anchor="end" font-style="italic">SYNE1</text>
<text x="49.9" y="1179.9" font-size="14" text-anchor="end" font-style="italic">MUC16</text>
<text x="49.9" y="1222.3" font-size="14" text-anchor="end" font-style="italic">USH2A</text>
<text x="49.9" y="1264.7" font-size="14" text-anchor="end" font-style="italic">DNAH5</text>
<text x="49.9" y="1307.1" font-size="14" text-anchor="end" font-style="italic">RYR2</text>
<text transform="translate(680.7 925.8) scale(0.985 1.085)" font-size="13.9">75%</text>
<text transform="translate(680.7 968.2) scale(0.985 1.085)" font-size="13.9">74%</text>
<text transform="translate(680.7 1010.6) scale(0.985 1.085)" font-size="13.9">51%</text>
<text transform="translate(680.7 1053) scale(0.985 1.085)" font-size="13.9">45%</text>
<text transform="translate(680.7 1095.4) scale(0.985 1.085)" font-size="13.9">28%</text>
<text transform="translate(680.7 1137.8) scale(0.985 1.085)" font-size="13.9">27%</text>
<text transform="translate(680.7 1180.2) scale(0.985 1.085)" font-size="13.9">26%</text>
<text transform="translate(680.7 1222.6) scale(0.985 1.085)" font-size="13.9">19%</text>
<text transform="translate(680.7 1265) scale(0.985 1.085)" font-size="13.9">18%</text>
<text transform="translate(680.7 1307.4) scale(0.985 1.085)" font-size="13.9">18%</text>
<path d="M715 890.2V896.9H882.8V890.2" stroke="#000" stroke-width="2.3" fill="none"/>
<text transform="translate(716.3 882.6) scale(0.920 1.000)" font-size="14.4" text-anchor="middle">0</text>
<text transform="translate(884.2 882.6) scale(0.920 1.000)" font-size="14.4" text-anchor="middle">97</text>
<text x="816" y="891.5" font-size="13.8" text-anchor="middle">No. of samples</text>
<rect x="715" y="904.1" width="1.72" height="38.4" fill="#E5801F"/>
<rect x="716.72" y="904.1" width="3.45" height="38.4" fill="#66A03A"/>
<rect x="720.17" y="904.1" width="46.56" height="38.4" fill="#C42023"/>
<rect x="766.74" y="904.1" width="13.8" height="38.4" fill="#4A78B4"/>
<rect x="780.53" y="904.1" width="6.9" height="38.4" fill="#643C96"/>
<rect x="787.43" y="904.1" width="94.85" height="38.4" fill="#000000"/>
<rect x="715" y="946.5" width="6.9" height="38.4" fill="#E5801F"/>
<rect x="721.9" y="946.5" width="106.92" height="38.4" fill="#66A03A"/>
<rect x="828.82" y="946.5" width="22.42" height="38.4" fill="#C42023"/>
<rect x="851.24" y="946.5" width="15.52" height="38.4" fill="#4A78B4"/>
<rect x="866.76" y="946.5" width="1.72" height="38.4" fill="#643C96"/>
<rect x="868.48" y="946.5" width="1.72" height="38.4" fill="#FFFFA0"/>
<rect x="870.21" y="946.5" width="8.62" height="38.4" fill="#000000"/>
<rect x="715" y="988.9" width="1.72" height="38.4" fill="#E5801F"/>
<rect x="716.72" y="988.9" width="65.53" height="38.4" fill="#66A03A"/>
<rect x="782.26" y="988.9" width="3.45" height="38.4" fill="#C42023"/>
<rect x="785.7" y="988.9" width="1.72" height="38.4" fill="#4A78B4"/>
<rect x="787.43" y="988.9" width="41.39" height="38.4" fill="#000000"/>
<rect x="715" y="1031.3" width="98.3" height="38.4" fill="#66A03A"/>
<rect x="813.3" y="1031.3" width="1.72" height="38.4" fill="#000000"/>
<rect x="715" y="1073.7" width="50.01" height="38.4" fill="#66A03A"/>
<rect x="765.01" y="1073.7" width="1.72" height="38.4" fill="#FFFFA0"/>
<rect x="766.74" y="1073.7" width="1.72" height="38.4" fill="#BE3A58"/>
<rect x="768.46" y="1073.7" width="8.62" height="38.4" fill="#000000"/>
<rect x="715" y="1116.1" width="43.11" height="38.4" fill="#66A03A"/>
<rect x="758.11" y="1116.1" width="1.72" height="38.4" fill="#643C96"/>
<rect x="759.84" y="1116.1" width="15.52" height="38.4" fill="#000000"/>
<rect x="715" y="1158.5" width="39.66" height="38.4" fill="#66A03A"/>
<rect x="754.66" y="1158.5" width="5.17" height="38.4" fill="#C42023"/>
<rect x="759.84" y="1158.5" width="1.72" height="38.4" fill="#643C96"/>
<rect x="761.56" y="1158.5" width="12.07" height="38.4" fill="#000000"/>
<rect x="715" y="1200.9" width="31.04" height="38.4" fill="#66A03A"/>
<rect x="746.04" y="1200.9" width="1.72" height="38.4" fill="#C42023"/>
<rect x="747.77" y="1200.9" width="1.72" height="38.4" fill="#643C96"/>
<rect x="749.49" y="1200.9" width="6.9" height="38.4" fill="#000000"/>
<rect x="715" y="1243.3" width="31.04" height="38.4" fill="#66A03A"/>
<rect x="746.04" y="1243.3" width="5.17" height="38.4" fill="#C42023"/>
<rect x="751.21" y="1243.3" width="3.45" height="38.4" fill="#000000"/>
<rect x="715" y="1285.7" width="32.77" height="38.4" fill="#66A03A"/>
<rect x="747.77" y="1285.7" width="6.9" height="38.4" fill="#000000"/>
<rect x="144.7" y="1341.1" width="5.6" height="5.8" fill="#643C96"/>
<rect x="144.7" y="1355.2" width="5.6" height="5.8" fill="#FFFFA0"/>
<rect x="144.7" y="1369.3" width="5.6" height="5.8" fill="#BE3A58"/>
<rect x="144.7" y="1383.4" width="5.6" height="5.8" fill="#000000"/>
<rect x="12.6" y="1341.1" width="5.6" height="5.8" fill="#E5801F"/>
<text x="26.2" y="1348.6" font-size="13.9">Splice_Site</text>
<rect x="12.6" y="1355.2" width="5.6" height="5.8" fill="#66A03A"/>
<text x="26.2" y="1362.7" font-size="13.9">Missense_Mutation</text>
<rect x="12.6" y="1369.3" width="5.6" height="5.8" fill="#C42023"/>
<text x="26.2" y="1376.8" font-size="13.9">Nonsense_Mutation</text>
<rect x="12.6" y="1383.4" width="5.6" height="5.8" fill="#4A78B4"/>
<text x="26.2" y="1390.9" font-size="13.9">Frame_Shift_Del</text>
<text x="158.3" y="1348.6" font-size="13.9">Frame_Shift_Ins</text>
<text x="158.3" y="1362.7" font-size="13.9">In_Frame_Del</text>
<text x="158.3" y="1376.8" font-size="13.9">In_Frame_Ins</text>
<text x="158.3" y="1390.9" font-size="13.9">Multi_Hit</text>
</g>
<g id="panelC">
<text x="891.5" y="727.5" font-size="49">C</text>
<text x="1305.4" y="750.2" font-size="20.86" text-anchor="middle" font-weight="bold" style="stroke-width:0">Altered in 246 (99.6%) of 247 samples( Low Risk group)</text>
<rect x="943.1" y="889.9" width="2.5" height="0.3" fill="#4A78B4"/>
<rect x="943.1" y="859.7" width="2.5" height="30.2" fill="#66A03A"/>
<rect x="943.1" y="853.9" width="2.5" height="5.8" fill="#C42023"/>
<rect x="945.6" y="887.8" width="2.5" height="2.4" fill="#66A03A"/>
<rect x="945.6" y="887.2" width="2.5" height="0.6" fill="#C42023"/>
<rect x="948.1" y="888.85" width="2.5" height="1.35" fill="#66A03A"/>
<rect x="948.1" y="888.7" width="2.5" height="0.15" fill="#C42023"/>
<rect x="950.6" y="888.85" width="2.5" height="1.35" fill="#66A03A"/>
<rect x="950.6" y="888.7" width="2.5" height="0.15" fill="#C42023"/>
<rect x="953.09" y="888.85" width="2.5" height="1.35" fill="#66A03A"/>
<rect x="953.09" y="888.7" width="2.5" height="0.15" fill="#C42023"/>
<rect x="955.59" y="888.95" width="2.5" height="1.25" fill="#66A03A"/>
<rect x="955.59" y="888.8" width="2.5" height="0.15" fill="#C42023"/>
<rect x="958.09" y="889.15" width="2.5" height="1.05" fill="#66A03A"/>
<rect x="958.09" y="889" width="2.5" height="0.15" fill="#C42023"/>
<rect x="960.59" y="888.85" width="2.5" height="1.35" fill="#66A03A"/>
<rect x="960.59" y="888.7" width="2.5" height="0.15" fill="#C42023"/>
<rect x="963.09" y="889.15" width="2.5" height="1.05" fill="#66A03A"/>
<rect x="963.09" y="889" width="2.5" height="0.15" fill="#C42023"/>
<rect x="965.59" y="889.35" width="2.5" height="0.85" fill="#66A03A"/>
<rect x="965.59" y="889.2" width="2.5" height="0.15" fill="#C42023"/>
<rect x="968.08" y="888.85" width="2.5" height="1.35" fill="#66A03A"/>
<rect x="968.08" y="888.7" width="2.5" height="0.15" fill="#C42023"/>
<rect x="970.58" y="888.2" width="2.5" height="2" fill="#4A78B4"/>
<rect x="970.58" y="879.8" width="2.5" height="8.4" fill="#66A03A"/>
<rect x="970.58" y="879" width="2.5" height="0.8" fill="#C42023"/>
<rect x="973.08" y="889.2" width="2.5" height="1" fill="#4A78B4"/>
<rect x="973.08" y="883" width="2.5" height="6.2" fill="#66A03A"/>
<rect x="973.08" y="882.2" width="2.5" height="0.8" fill="#C42023"/>
<rect x="975.58" y="888.75" width="2.5" height="1.45" fill="#66A03A"/>
<rect x="975.58" y="888.6" width="2.5" height="0.15" fill="#C42023"/>
<rect x="978.08" y="889.15" width="2.5" height="1.05" fill="#66A03A"/>
<rect x="978.08" y="889" width="2.5" height="0.15" fill="#C42023"/>
<rect x="980.58" y="889.35" width="2.5" height="0.85" fill="#66A03A"/>
<rect x="980.58" y="889.2" width="2.5" height="0.15" fill="#C42023"/>
<rect x="983.07" y="889.45" width="2.5" height="0.75" fill="#66A03A"/>
<rect x="983.07" y="889.3" width="2.5" height="0.15" fill="#C42023"/>
<rect x="985.57" y="889.05" width="2.5" height="1.15" fill="#66A03A"/>
<rect x="985.57" y="888.9" width="2.5" height="0.15" fill="#C42023"/>
<rect x="988.07" y="888.85" width="2.5" height="1.35" fill="#66A03A"/>
<rect x="988.07" y="888.7" width="2.5" height="0.15" fill="#C42023"/>
<rect x="990.57" y="889.15" width="2.5" height="1.05" fill="#66A03A"/>
<rect x="990.57" y="889" width="2.5" height="0.15" fill="#C42023"/>
<rect x="993.07" y="889.45" width="2.5" height="0.75" fill="#66A03A"/>
<rect x="993.07" y="889.3" width="2.5" height="0.15" fill="#C42023"/>
<rect x="995.57" y="889.35" width="2.5" height="0.85" fill="#66A03A"/>
<rect x="995.57" y="889.2" width="2.5" height="0.15" fill="#C42023"/>
<rect x="998.06" y="889.7" width="2.5" height="0.5" fill="#4A78B4"/>
<rect x="998.06" y="855" width="2.5" height="34.7" fill="#66A03A"/>
<rect x="998.06" y="849.6" width="2.5" height="5.4" fill="#C42023"/>
<rect x="1000.56" y="887.2" width="2.5" height="3" fill="#4A78B4"/>
<rect x="1000.56" y="875.9" width="2.5" height="11.3" fill="#66A03A"/>
<rect x="1000.56" y="874.9" width="2.5" height="1" fill="#C42023"/>
<rect x="1003.06" y="889.7" width="2.5" height="0.5" fill="#4A78B4"/>
<rect x="1003.06" y="888.4" width="2.5" height="1.3" fill="#66A03A"/>
<rect x="1003.06" y="888" width="2.5" height="0.4" fill="#C42023"/>
<rect x="1005.56" y="887.2" width="2.5" height="3" fill="#4A78B4"/>
<rect x="1005.56" y="876.6" width="2.5" height="10.6" fill="#66A03A"/>
<rect x="1005.56" y="875.6" width="2.5" height="1" fill="#C42023"/>
<rect x="1008.06" y="885.2" width="2.5" height="5" fill="#4A78B4"/>
<rect x="1008.06" y="862.2" width="2.5" height="23" fill="#66A03A"/>
<rect x="1008.06" y="860.7" width="2.5" height="1.5" fill="#C42023"/>
<rect x="1010.56" y="887.2" width="2.5" height="3" fill="#4A78B4"/>
<rect x="1010.56" y="877.4" width="2.5" height="9.8" fill="#66A03A"/>
<rect x="1010.56" y="876.4" width="2.5" height="1" fill="#C42023"/>
<rect x="1013.06" y="889.45" width="2.5" height="0.75" fill="#66A03A"/>
<rect x="1013.06" y="889.3" width="2.5" height="0.15" fill="#C42023"/>
<rect x="1015.55" y="889.45" width="2.5" height="0.75" fill="#66A03A"/>
<rect x="1015.55" y="889.3" width="2.5" height="0.15" fill="#C42023"/>
<rect x="1018.05" y="888.95" width="2.5" height="1.25" fill="#66A03A"/>
<rect x="1018.05" y="888.8" width="2.5" height="0.15" fill="#C42023"/>
<rect x="1020.55" y="888.95" width="2.5" height="1.25" fill="#66A03A"/>
<rect x="1020.55" y="888.8" width="2.5" height="0.15" fill="#C42023"/>
<rect x="1023.05" y="889.45" width="2.5" height="0.75" fill="#66A03A"/>
<rect x="1023.05" y="889.3" width="2.5" height="0.15" fill="#C42023"/>
<rect x="1025.55" y="888.85" width="2.5" height="1.35" fill="#66A03A"/>
<rect x="1025.55" y="888.7" width="2.5" height="0.15" fill="#C42023"/>
<rect x="1028.05" y="888.55" width="2.5" height="1.65" fill="#66A03A"/>
<rect x="1028.05" y="888.4" width="2.5" height="0.15" fill="#C42023"/>
<rect x="1030.54" y="888.85" width="2.5" height="1.35" fill="#66A03A"/>
<rect x="1030.54" y="888.7" width="2.5" height="0.15" fill="#C42023"/>
<rect x="1033.04" y="888.95" width="2.5" height="1.25" fill="#66A03A"/>
<rect x="1033.04" y="888.8" width="2.5" height="0.15" fill="#C42023"/>
<rect x="1035.54" y="888.7" width="2.5" height="1.5" fill="#4A78B4"/>
<rect x="1035.54" y="881" width="2.5" height="7.7" fill="#66A03A"/>
<rect x="1035.54" y="880.2" width="2.5" height="0.8" fill="#C42023"/>
<rect x="1038.04" y="888.95" width="2.5" height="1.25" fill="#66A03A"/>
<rect x="1038.04" y="888.8" width="2.5" height="0.15" fill="#C42023"/>
<rect x="1040.54" y="888.75" width="2.5" height="1.45" fill="#66A03A"/>
<rect x="1040.54" y="888.6" width="2.5" height="0.15" fill="#C42023"/>
<rect x="1043.04" y="888.85" width="2.5" height="1.35" fill="#66A03A"/>
<rect x="1043.04" y="888.7" width="2.5" height="0.15" fill="#C42023"/>
<rect x="1045.53" y="889.45" width="2.5" height="0.75" fill="#66A03A"/>
<rect x="1045.53" y="889.3" width="2.5" height="0.15" fill="#C42023"/>
<rect x="1048.03" y="889.35" width="2.5" height="0.85" fill="#66A03A"/>
<rect x="1048.03" y="889.2" width="2.5" height="0.15" fill="#C42023"/>
<rect x="1050.53" y="888.85" width="2.5" height="1.35" fill="#66A03A"/>
<rect x="1050.53" y="888.7" width="2.5" height="0.15" fill="#C42023"/>
<rect x="1053.03" y="888.75" width="2.5" height="1.45" fill="#66A03A"/>
<rect x="1053.03" y="888.6" width="2.5" height="0.15" fill="#C42023"/>
<rect x="1055.53" y="889.05" width="2.5" height="1.15" fill="#66A03A"/>
<rect x="1055.53" y="888.9" width="2.5" height="0.15" fill="#C42023"/>
<rect x="1058.03" y="889.35" width="2.5" height="0.85" fill="#66A03A"/>
<rect x="1058.03" y="889.2" width="2.5" height="0.15" fill="#C42023"/>
<rect x="1060.52" y="888.75" width="2.5" height="1.45" fill="#66A03A"/>
<rect x="1060.52" y="888.6" width="2.5" height="0.15" fill="#C42023"/>
<rect x="1063.02" y="888.55" width="2.5" height="1.65" fill="#66A03A"/>
<rect x="1063.02" y="888.4" width="2.5" height="0.15" fill="#C42023"/>
<rect x="1065.52" y="888.95" width="2.5" height="1.25" fill="#66A03A"/>
<rect x="1065.52" y="888.8" width="2.5" height="0.15" fill="#C42023"/>
<rect x="1068.02" y="888.75" width="2.5" height="1.45" fill="#66A03A"/>
<rect x="1068.02" y="888.6" width="2.5" height="0.15" fill="#C42023"/>
<rect x="1070.52" y="889.45" width="2.5" height="0.75" fill="#66A03A"/>
<rect x="1070.52" y="889.3" width="2.5" height="0.15" fill="#C42023"/>
<rect x="1073.02" y="889.35" width="2.5" height="0.85" fill="#66A03A"/>
<rect x="1073.02" y="889.2" width="2.5" height="0.15" fill="#C42023"/>
<rect x="1075.52" y="889.35" width="2.5" height="0.85" fill="#66A03A"/>
<rect x="1075.52" y="889.2" width="2.5" height="0.15" fill="#C42023"/>
<rect x="1078.01" y="889.05" width="2.5" height="1.15" fill="#66A03A"/>
<rect x="1078.01" y="888.9" width="2.5" height="0.15" fill="#C42023"/>
<rect x="1080.51" y="889.7" width="2.5" height="0.5" fill="#4A78B4"/>
<rect x="1080.51" y="837.1" width="2.5" height="52.6" fill="#66A03A"/>
<rect x="1080.51" y="830.3" width="2.5" height="6.8" fill="#C42023"/>
<rect x="1083.01" y="889.7" width="2.5" height="0.5" fill="#4A78B4"/>
<rect x="1083.01" y="827.3" width="2.5" height="62.4" fill="#66A03A"/>
<rect x="1083.01" y="819.9" width="2.5" height="7.4" fill="#C42023"/>
<rect x="1083.01" y="818.4" width="2.5" height="1.5" fill="#E5801F"/>
<rect x="1085.51" y="888.2" width="2.5" height="2" fill="#4A78B4"/>
<rect x="1085.51" y="879.5" width="2.5" height="8.7" fill="#66A03A"/>
<rect x="1085.51" y="878.7" width="2.5" height="0.8" fill="#C42023"/>
<rect x="1088.01" y="886.2" width="2.5" height="4" fill="#4A78B4"/>
<rect x="1088.01" y="867.1" width="2.5" height="19.1" fill="#66A03A"/>
<rect x="1088.01" y="865.6" width="2.5" height="1.5" fill="#C42023"/>
<rect x="1090.51" y="875.2" width="2.5" height="15" fill="#643C96"/>
<rect x="1090.51" y="867.8" width="2.5" height="7.4" fill="#BE3A58"/>
<rect x="1090.51" y="863" width="2.5" height="4.8" fill="#66A03A"/>
<rect x="1090.51" y="858" width="2.5" height="5" fill="#C42023"/>
<rect x="1093" y="889.35" width="2.5" height="0.85" fill="#66A03A"/>
<rect x="1093" y="889.2" width="2.5" height="0.15" fill="#C42023"/>
<rect x="1095.5" y="886.2" width="2.5" height="4" fill="#4A78B4"/>
<rect x="1095.5" y="869.5" width="2.5" height="16.7" fill="#66A03A"/>
<rect x="1095.5" y="868.5" width="2.5" height="1" fill="#C42023"/>
<rect x="1098" y="888.75" width="2.5" height="1.45" fill="#66A03A"/>
<rect x="1098" y="888.6" width="2.5" height="0.15" fill="#C42023"/>
<rect x="1100.5" y="889.7" width="2.5" height="0.5" fill="#4A78B4"/>
<rect x="1100.5" y="888.1" width="2.5" height="1.6" fill="#66A03A"/>
<rect x="1100.5" y="887.7" width="2.5" height="0.4" fill="#C42023"/>
<rect x="1103" y="888.7" width="2.5" height="1.5" fill="#4A78B4"/>
<rect x="1103" y="864.7" width="2.5" height="24" fill="#66A03A"/>
<rect x="1103" y="863.2" width="2.5" height="1.5" fill="#C42023"/>
<rect x="1105.5" y="887.7" width="2.5" height="2.5" fill="#4A78B4"/>
<rect x="1105.5" y="874.2" width="2.5" height="13.5" fill="#66A03A"/>
<rect x="1105.5" y="873.2" width="2.5" height="1" fill="#C42023"/>
<rect x="1107.99" y="889.2" width="2.5" height="1" fill="#4A78B4"/>
<rect x="1107.99" y="873.6" width="2.5" height="15.6" fill="#66A03A"/>
<rect x="1107.99" y="872.6" width="2.5" height="1" fill="#C42023"/>
<rect x="1110.49" y="889.05" width="2.5" height="1.15" fill="#66A03A"/>
<rect x="1110.49" y="888.9" width="2.5" height="0.15" fill="#C42023"/>
<rect x="1112.99" y="889.35" width="2.5" height="0.85" fill="#66A03A"/>
<rect x="1112.99" y="889.2" width="2.5" height="0.15" fill="#C42023"/>
<rect x="1115.49" y="889.45" width="2.5" height="0.75" fill="#66A03A"/>
<rect x="1115.49" y="889.3" width="2.5" height="0.15" fill="#C42023"/>
<rect x="1117.99" y="889.45" width="2.5" height="0.75" fill="#66A03A"/>
<rect x="1117.99" y="889.3" width="2.5" height="0.15" fill="#C42023"/>
<rect x="1120.49" y="888.95" width="2.5" height="1.25" fill="#66A03A"/>
<rect x="1120.49" y="888.8" width="2.5" height="0.15" fill="#C42023"/>
<rect x="1122.98" y="888.95" width="2.5" height="1.25" fill="#66A03A"/>
<rect x="1122.98" y="888.8" width="2.5" height="0.15" fill="#C42023"/>
<rect x="1125.48" y="889.45" width="2.5" height="0.75" fill="#66A03A"/>
<rect x="1125.48" y="889.3" width="2.5" height="0.15" fill="#C42023"/>
<rect x="1127.98" y="888.2" width="2.5" height="2" fill="#4A78B4"/>
<rect x="1127.98" y="881.1" width="2.5" height="7.1" fill="#66A03A"/>
<rect x="1127.98" y="880.3" width="2.5" height="0.8" fill="#C42023"/>
<rect x="1130.48" y="888.85" width="2.5" height="1.35" fill="#66A03A"/>
<rect x="1130.48" y="888.7" width="2.5" height="0.15" fill="#C42023"/>
<rect x="1132.98" y="889.05" width="2.5" height="1.15" fill="#66A03A"/>
<rect x="1132.98" y="888.9" width="2.5" height="0.15" fill="#C42023"/>
<rect x="1135.48" y="889.05" width="2.5" height="1.15" fill="#66A03A"/>
<rect x="1135.48" y="888.9" width="2.5" height="0.15" fill="#C42023"/>
<rect x="1137.98" y="889.05" width="2.5" height="1.15" fill="#66A03A"/>
<rect x="1137.98" y="888.9" width="2.5" height="0.15" fill="#C42023"/>
<rect x="1140.47" y="889.35" width="2.5" height="0.85" fill="#66A03A"/>
<rect x="1140.47" y="889.2" width="2.5" height="0.15" fill="#C42023"/>
<rect x="1142.97" y="888.95" width="2.5" height="1.25" fill="#66A03A"/>
<rect x="1142.97" y="888.8" width="2.5" height="0.15" fill="#C42023"/>
<rect x="1145.47" y="888.75" width="2.5" height="1.45" fill="#66A03A"/>
<rect x="1145.47" y="888.6" width="2.5" height="0.15" fill="#C42023"/>
<rect x="1147.97" y="886.2" width="2.5" height="4" fill="#4A78B4"/>
<rect x="1147.97" y="859.7" width="2.5" height="26.5" fill="#66A03A"/>
<rect x="1147.97" y="854.7" width="2.5" height="5" fill="#C42023"/>
<rect x="1150.47" y="887.2" width="2.5" height="3" fill="#4A78B4"/>
<rect x="1150.47" y="873.6" width="2.5" height="13.6" fill="#66A03A"/>
<rect x="1150.47" y="872.6" width="2.5" height="1" fill="#C42023"/>
<rect x="1152.97" y="889.8" width="2.5" height="0.4" fill="#4A78B4"/>
<rect x="1152.97" y="795.9" width="2.5" height="93.9" fill="#66A03A"/>
<rect x="1152.97" y="784.7" width="2.5" height="11.2" fill="#C42023"/>
<rect x="1152.97" y="783.2" width="2.5" height="1.5" fill="#E5801F"/>
<rect x="1155.46" y="888.55" width="2.5" height="1.65" fill="#66A03A"/>
<rect x="1155.46" y="888.4" width="2.5" height="0.15" fill="#C42023"/>
<rect x="1157.96" y="888.2" width="2.5" height="2" fill="#4A78B4"/>
<rect x="1157.96" y="881.8" width="2.5" height="6.4" fill="#66A03A"/>
<rect x="1157.96" y="881" width="2.5" height="0.8" fill="#C42023"/>
<rect x="1160.46" y="885.7" width="2.5" height="4.5" fill="#4A78B4"/>
<rect x="1160.46" y="868.4" width="2.5" height="17.3" fill="#66A03A"/>
<rect x="1160.46" y="867.4" width="2.5" height="1" fill="#C42023"/>
<rect x="1162.96" y="884.7" width="2.5" height="5.5" fill="#4A78B4"/>
<rect x="1162.96" y="863.2" width="2.5" height="21.5" fill="#66A03A"/>
<rect x="1162.96" y="862" width="2.5" height="1.2" fill="#C42023"/>
<rect x="1165.46" y="887.2" width="2.5" height="3" fill="#4A78B4"/>
<rect x="1165.46" y="875.2" width="2.5" height="12" fill="#66A03A"/>
<rect x="1165.46" y="874.2" width="2.5" height="1" fill="#C42023"/>
<rect x="1167.96" y="889.35" width="2.5" height="0.85" fill="#66A03A"/>
<rect x="1167.96" y="889.2" width="2.5" height="0.15" fill="#C42023"/>
<rect x="1170.45" y="888.75" width="2.5" height="1.45" fill="#66A03A"/>
<rect x="1170.45" y="888.6" width="2.5" height="0.15" fill="#C42023"/>
<rect x="1172.95" y="888.55" width="2.5" height="1.65" fill="#66A03A"/>
<rect x="1172.95" y="888.4" width="2.5" height="0.15" fill="#C42023"/>
<rect x="1175.45" y="887.7" width="2.5" height="2.5" fill="#4A78B4"/>
<rect x="1175.45" y="878.1" width="2.5" height="9.6" fill="#66A03A"/>
<rect x="1175.45" y="877.3" width="2.5" height="0.8" fill="#C42023"/>
<rect x="1177.95" y="889.45" width="2.5" height="0.75" fill="#66A03A"/>
<rect x="1177.95" y="889.3" width="2.5" height="0.15" fill="#C42023"/>
<rect x="1180.45" y="889.05" width="2.5" height="1.15" fill="#66A03A"/>
<rect x="1180.45" y="888.9" width="2.5" height="0.15" fill="#C42023"/>
<rect x="1182.95" y="889.35" width="2.5" height="0.85" fill="#66A03A"/>
<rect x="1182.95" y="889.2" width="2.5" height="0.15" fill="#C42023"/>
<rect x="1185.44" y="889.15" width="2.5" height="1.05" fill="#66A03A"/>
<rect x="1185.44" y="889" width="2.5" height="0.15" fill="#C42023"/>
<rect x="1187.94" y="888.95" width="2.5" height="1.25" fill="#66A03A"/>
<rect x="1187.94" y="888.8" width="2.5" height="0.15" fill="#C42023"/>
<rect x="1190.44" y="889.35" width="2.5" height="0.85" fill="#66A03A"/>
<rect x="1190.44" y="889.2" width="2.5" height="0.15" fill="#C42023"/>
<rect x="1192.94" y="889.45" width="2.5" height="0.75" fill="#66A03A"/>
<rect x="1192.94" y="889.3" width="2.5" height="0.15" fill="#C42023"/>
<rect x="1195.44" y="889.45" width="2.5" height="0.75" fill="#66A03A"/>
<rect x="1195.44" y="889.3" width="2.5" height="0.15" fill="#C42023"/>
<rect x="1197.94" y="888.85" width="2.5" height="1.35" fill="#66A03A"/>
<rect x="1197.94" y="888.7" width="2.5" height="0.15" fill="#C42023"/>
<rect x="1200.44" y="888.85" width="2.5" height="1.35" fill="#66A03A"/>
<rect x="1200.44" y="888.7" width="2.5" height="0.15" fill="#C42023"/>
<rect x="1202.93" y="889.15" width="2.5" height="1.05" fill="#66A03A"/>
<rect x="1202.93" y="889" width="2.5" height="0.15" fill="#C42023"/>
<rect x="1205.43" y="888.95" width="2.5" height="1.25" fill="#66A03A"/>
<rect x="1205.43" y="888.8" width="2.5" height="0.15" fill="#C42023"/>
<rect x="1207.93" y="888.85" width="2.5" height="1.35" fill="#66A03A"/>
<rect x="1207.93" y="888.7" width="2.5" height="0.15" fill="#C42023"/>
<rect x="1210.43" y="888.95" width="2.5" height="1.25" fill="#66A03A"/>
<rect x="1210.43" y="888.8" width="2.5" height="0.15" fill="#C42023"/>
<rect x="1212.93" y="889.15" width="2.5" height="1.05" fill="#66A03A"/>
<rect x="1212.93" y="889" width="2.5" height="0.15" fill="#C42023"/>
<rect x="1215.43" y="889.05" width="2.5" height="1.15" fill="#66A03A"/>
<rect x="1215.43" y="888.9" width="2.5" height="0.15" fill="#C42023"/>
<rect x="1217.92" y="889.05" width="2.5" height="1.15" fill="#66A03A"/>
<rect x="1217.92" y="888.9" width="2.5" height="0.15" fill="#C42023"/>
<rect x="1220.42" y="889.35" width="2.5" height="0.85" fill="#66A03A"/>
<rect x="1220.42" y="889.2" width="2.5" height="0.15" fill="#C42023"/>
<rect x="1222.92" y="889.05" width="2.5" height="1.15" fill="#66A03A"/>
<rect x="1222.92" y="888.9" width="2.5" height="0.15" fill="#C42023"/>
<rect x="1225.42" y="889.05" width="2.5" height="1.15" fill="#66A03A"/>
<rect x="1225.42" y="888.9" width="2.5" height="0.15" fill="#C42023"/>
<rect x="1227.92" y="888.95" width="2.5" height="1.25" fill="#66A03A"/>
<rect x="1227.92" y="888.8" width="2.5" height="0.15" fill="#C42023"/>
<rect x="1230.42" y="889.45" width="2.5" height="0.75" fill="#66A03A"/>
<rect x="1230.42" y="889.3" width="2.5" height="0.15" fill="#C42023"/>
<rect x="1232.91" y="888.75" width="2.5" height="1.45" fill="#66A03A"/>
<rect x="1232.91" y="888.6" width="2.5" height="0.15" fill="#C42023"/>
<rect x="1235.41" y="888.75" width="2.5" height="1.45" fill="#66A03A"/>
<rect x="1235.41" y="888.6" width="2.5" height="0.15" fill="#C42023"/>
<rect x="1237.91" y="889.45" width="2.5" height="0.75" fill="#66A03A"/>
<rect x="1237.91" y="889.3" width="2.5" height="0.15" fill="#C42023"/>
<rect x="1240.41" y="888.95" width="2.5" height="1.25" fill="#66A03A"/>
<rect x="1240.41" y="888.8" width="2.5" height="0.15" fill="#C42023"/>
<rect x="1242.91" y="889.15" width="2.5" height="1.05" fill="#66A03A"/>
<rect x="1242.91" y="889" width="2.5" height="0.15" fill="#C42023"/>
<rect x="1245.41" y="889.05" width="2.5" height="1.15" fill="#66A03A"/>
<rect x="1245.41" y="888.9" width="2.5" height="0.15" fill="#C42023"/>
<rect x="1247.9" y="889.35" width="2.5" height="0.85" fill="#66A03A"/>
<rect x="1247.9" y="889.2" width="2.5" height="0.15" fill="#C42023"/>
<rect x="1250.4" y="887.7" width="2.5" height="2.5" fill="#4A78B4"/>
<rect x="1250.4" y="878.5" width="2.5" height="9.2" fill="#66A03A"/>
<rect x="1250.4" y="877.7" width="2.5" height="0.8" fill="#C42023"/>
<rect x="1252.9" y="889.45" width="2.5" height="0.75" fill="#66A03A"/>
<rect x="1252.9" y="889.3" width="2.5" height="0.15" fill="#C42023"/>
<rect x="1255.4" y="889.15" width="2.5" height="1.05" fill="#66A03A"/>
<rect x="1255.4" y="889" width="2.5" height="0.15" fill="#C42023"/>
<rect x="1257.9" y="888.95" width="2.5" height="1.25" fill="#66A03A"/>
<rect x="1257.9" y="888.8" width="2.5" height="0.15" fill="#C42023"/>
<rect x="1260.4" y="888.85" width="2.5" height="1.35" fill="#66A03A"/>
<rect x="1260.4" y="888.7" width="2.5" height="0.15" fill="#C42023"/>
<rect x="1262.9" y="888.75" width="2.5" height="1.45" fill="#66A03A"/>
<rect x="1262.9" y="888.6" width="2.5" height="0.15" fill="#C42023"/>
<rect x="1265.39" y="889.45" width="2.5" height="0.75" fill="#66A03A"/>
<rect x="1265.39" y="889.3" width="2.5" height="0.15" fill="#C42023"/>
<rect x="1267.89" y="888.55" width="2.5" height="1.65" fill="#66A03A"/>
<rect x="1267.89" y="888.4" width="2.5" height="0.15" fill="#C42023"/>
<rect x="1270.39" y="888.75" width="2.5" height="1.45" fill="#66A03A"/>
<rect x="1270.39" y="888.6" width="2.5" height="0.15" fill="#C42023"/>
<rect x="1272.89" y="889.05" width="2.5" height="1.15" fill="#66A03A"/>
<rect x="1272.89" y="888.9" width="2.5" height="0.15" fill="#C42023"/>
<rect x="1275.39" y="889.35" width="2.5" height="0.85" fill="#66A03A"/>
<rect x="1275.39" y="889.2" width="2.5" height="0.15" fill="#C42023"/>
<rect x="1277.89" y="889.35" width="2.5" height="0.85" fill="#66A03A"/>
<rect x="1277.89" y="889.2" width="2.5" height="0.15" fill="#C42023"/>
<rect x="1280.38" y="889.35" width="2.5" height="0.85" fill="#66A03A"/>
<rect x="1280.38" y="889.2" width="2.5" height="0.15" fill="#C42023"/>
<rect x="1282.88" y="888.95" width="2.5" height="1.25" fill="#66A03A"/>
<rect x="1282.88" y="888.8" width="2.5" height="0.15" fill="#C42023"/>
<rect x="1285.38" y="888.95" width="2.5" height="1.25" fill="#66A03A"/>
<rect x="1285.38" y="888.8" width="2.5" height="0.15" fill="#C42023"/>
<rect x="1287.88" y="889.45" width="2.5" height="0.75" fill="#66A03A"/>
<rect x="1287.88" y="889.3" width="2.5" height="0.15" fill="#C42023"/>
<rect x="1290.38" y="888.55" width="2.5" height="1.65" fill="#66A03A"/>
<rect x="1290.38" y="888.4" width="2.5" height="0.15" fill="#C42023"/>
<rect x="1292.88" y="888.55" width="2.5" height="1.65" fill="#66A03A"/>
<rect x="1292.88" y="888.4" width="2.5" height="0.15" fill="#C42023"/>
<rect x="1295.37" y="888.85" width="2.5" height="1.35" fill="#66A03A"/>
<rect x="1295.37" y="888.7" width="2.5" height="0.15" fill="#C42023"/>
<rect x="1297.87" y="889.15" width="2.5" height="1.05" fill="#66A03A"/>
<rect x="1297.87" y="889" width="2.5" height="0.15" fill="#C42023"/>
<rect x="1300.37" y="888.85" width="2.5" height="1.35" fill="#66A03A"/>
<rect x="1300.37" y="888.7" width="2.5" height="0.15" fill="#C42023"/>
<rect x="1302.87" y="889.15" width="2.5" height="1.05" fill="#66A03A"/>
<rect x="1302.87" y="889" width="2.5" height="0.15" fill="#C42023"/>
<rect x="1305.37" y="889.05" width="2.5" height="1.15" fill="#66A03A"/>
<rect x="1305.37" y="888.9" width="2.5" height="0.15" fill="#C42023"/>
<rect x="1307.87" y="889.15" width="2.5" height="1.05" fill="#66A03A"/>
<rect x="1307.87" y="889" width="2.5" height="0.15" fill="#C42023"/>
<rect x="1310.36" y="889.15" width="2.5" height="1.05" fill="#66A03A"/>
<rect x="1310.36" y="889" width="2.5" height="0.15" fill="#C42023"/>
<rect x="1312.86" y="888.75" width="2.5" height="1.45" fill="#66A03A"/>
<rect x="1312.86" y="888.6" width="2.5" height="0.15" fill="#C42023"/>
<rect x="1315.36" y="888.95" width="2.5" height="1.25" fill="#66A03A"/>
<rect x="1315.36" y="888.8" width="2.5" height="0.15" fill="#C42023"/>
<rect x="1317.86" y="888.95" width="2.5" height="1.25" fill="#66A03A"/>
<rect x="1317.86" y="888.8" width="2.5" height="0.15" fill="#C42023"/>
<rect x="1320.36" y="888.95" width="2.5" height="1.25" fill="#66A03A"/>
<rect x="1320.36" y="888.8" width="2.5" height="0.15" fill="#C42023"/>
<rect x="1322.86" y="889.15" width="2.5" height="1.05" fill="#66A03A"/>
<rect x="1322.86" y="889" width="2.5" height="0.15" fill="#C42023"/>
<rect x="1325.36" y="888.95" width="2.5" height="1.25" fill="#66A03A"/>
<rect x="1325.36" y="888.8" width="2.5" height="0.15" fill="#C42023"/>
<rect x="1327.85" y="889.05" width="2.5" height="1.15" fill="#66A03A"/>
<rect x="1327.85" y="888.9" width="2.5" height="0.15" fill="#C42023"/>
<rect x="1330.35" y="888.85" width="2.5" height="1.35" fill="#66A03A"/>
<rect x="1330.35" y="888.7" width="2.5" height="0.15" fill="#C42023"/>
<rect x="1332.85" y="889.35" width="2.5" height="0.85" fill="#66A03A"/>
<rect x="1332.85" y="889.2" width="2.5" height="0.15" fill="#C42023"/>
<rect x="1335.35" y="889.05" width="2.5" height="1.15" fill="#66A03A"/>
<rect x="1335.35" y="888.9" width="2.5" height="0.15" fill="#C42023"/>
<rect x="1337.85" y="889.45" width="2.5" height="0.75" fill="#66A03A"/>
<rect x="1337.85" y="889.3" width="2.5" height="0.15" fill="#C42023"/>
<rect x="1340.35" y="889.35" width="2.5" height="0.85" fill="#66A03A"/>
<rect x="1340.35" y="889.2" width="2.5" height="0.15" fill="#C42023"/>
<rect x="1342.84" y="889.35" width="2.5" height="0.85" fill="#66A03A"/>
<rect x="1342.84" y="889.2" width="2.5" height="0.15" fill="#C42023"/>
<rect x="1345.34" y="889.45" width="2.5" height="0.75" fill="#66A03A"/>
<rect x="1345.34" y="889.3" width="2.5" height="0.15" fill="#C42023"/>
<rect x="1347.84" y="888.75" width="2.5" height="1.45" fill="#66A03A"/>
<rect x="1347.84" y="888.6" width="2.5" height="0.15" fill="#C42023"/>
<rect x="1350.34" y="888.95" width="2.5" height="1.25" fill="#66A03A"/>
<rect x="1350.34" y="888.8" width="2.5" height="0.15" fill="#C42023"/>
<rect x="1352.84" y="889.05" width="2.5" height="1.15" fill="#66A03A"/>
<rect x="1352.84" y="888.9" width="2.5" height="0.15" fill="#C42023"/>
<rect x="1355.34" y="888.75" width="2.5" height="1.45" fill="#66A03A"/>
<rect x="1355.34" y="888.6" width="2.5" height="0.15" fill="#C42023"/>
<rect x="1357.83" y="889.05" width="2.5" height="1.15" fill="#66A03A"/>
<rect x="1357.83" y="888.9" width="2.5" height="0.15" fill="#C42023"/>
<rect x="1360.33" y="888.85" width="2.5" height="1.35" fill="#66A03A"/>
<rect x="1360.33" y="888.7" width="2.5" height="0.15" fill="#C42023"/>
<rect x="1362.83" y="888.75" width="2.5" height="1.45" fill="#66A03A"/>
<rect x="1362.83" y="888.6" width="2.5" height="0.15" fill="#C42023"/>
<rect x="1365.33" y="889.15" width="2.5" height="1.05" fill="#66A03A"/>
<rect x="1365.33" y="889" width="2.5" height="0.15" fill="#C42023"/>
<rect x="1367.83" y="887.2" width="2.5" height="3" fill="#4A78B4"/>
<rect x="1367.83" y="879" width="2.5" height="8.2" fill="#66A03A"/>
<rect x="1367.83" y="878.2" width="2.5" height="0.8" fill="#C42023"/>
<rect x="1370.33" y="889.35" width="2.5" height="0.85" fill="#66A03A"/>
<rect x="1370.33" y="889.2" width="2.5" height="0.15" fill="#C42023"/>
<rect x="1372.82" y="889.15" width="2.5" height="1.05" fill="#66A03A"/>
<rect x="1372.82" y="889" width="2.5" height="0.15" fill="#C42023"/>
<rect x="1375.32" y="888.95" width="2.5" height="1.25" fill="#66A03A"/>
<rect x="1375.32" y="888.8" width="2.5" height="0.15" fill="#C42023"/>
<rect x="1377.82" y="888.85" width="2.5" height="1.35" fill="#66A03A"/>
<rect x="1377.82" y="888.7" width="2.5" height="0.15" fill="#C42023"/>
<rect x="1380.32" y="889.35" width="2.5" height="0.85" fill="#66A03A"/>
<rect x="1380.32" y="889.2" width="2.5" height="0.15" fill="#C42023"/>
<rect x="1382.82" y="888.75" width="2.5" height="1.45" fill="#66A03A"/>
<rect x="1382.82" y="888.6" width="2.5" height="0.15" fill="#C42023"/>
<rect x="1385.32" y="888.95" width="2.5" height="1.25" fill="#66A03A"/>
<rect x="1385.32" y="888.8" width="2.5" height="0.15" fill="#C42023"/>
<rect x="1387.82" y="888.95" width="2.5" height="1.25" fill="#66A03A"/>
<rect x="1387.82" y="888.8" width="2.5" height="0.15" fill="#C42023"/>
<rect x="1390.31" y="889.45" width="2.5" height="0.75" fill="#66A03A"/>
<rect x="1390.31" y="889.3" width="2.5" height="0.15" fill="#C42023"/>
<rect x="1392.81" y="889.35" width="2.5" height="0.85" fill="#66A03A"/>
<rect x="1392.81" y="889.2" width="2.5" height="0.15" fill="#C42023"/>
<rect x="1395.31" y="888.75" width="2.5" height="1.45" fill="#66A03A"/>
<rect x="1395.31" y="888.6" width="2.5" height="0.15" fill="#C42023"/>
<rect x="1397.81" y="889.05" width="2.5" height="1.15" fill="#66A03A"/>
<rect x="1397.81" y="888.9" width="2.5" height="0.15" fill="#C42023"/>
<rect x="1400.31" y="888.85" width="2.5" height="1.35" fill="#66A03A"/>
<rect x="1400.31" y="888.7" width="2.5" height="0.15" fill="#C42023"/>
<rect x="1402.81" y="888.95" width="2.5" height="1.25" fill="#66A03A"/>
<rect x="1402.81" y="888.8" width="2.5" height="0.15" fill="#C42023"/>
<rect x="1405.3" y="889.45" width="2.5" height="0.75" fill="#66A03A"/>
<rect x="1405.3" y="889.3" width="2.5" height="0.15" fill="#C42023"/>
<rect x="1407.8" y="889.45" width="2.5" height="0.75" fill="#66A03A"/>
<rect x="1407.8" y="889.3" width="2.5" height="0.15" fill="#C42023"/>
<rect x="1410.3" y="889.15" width="2.5" height="1.05" fill="#66A03A"/>
<rect x="1410.3" y="889" width="2.5" height="0.15" fill="#C42023"/>
<rect x="1412.8" y="888.75" width="2.5" height="1.45" fill="#66A03A"/>
<rect x="1412.8" y="888.6" width="2.5" height="0.15" fill="#C42023"/>
<rect x="1415.3" y="888.55" width="2.5" height="1.65" fill="#66A03A"/>
<rect x="1415.3" y="888.4" width="2.5" height="0.15" fill="#C42023"/>
<rect x="1417.8" y="889.15" width="2.5" height="1.05" fill="#66A03A"/>
<rect x="1417.8" y="889" width="2.5" height="0.15" fill="#C42023"/>
<rect x="1420.29" y="889.35" width="2.5" height="0.85" fill="#66A03A"/>
<rect x="1420.29" y="889.2" width="2.5" height="0.15" fill="#C42023"/>
<rect x="1422.79" y="888.5" width="2.5" height="1.7" fill="#66A03A"/>
<rect x="1422.79" y="888" width="2.5" height="0.5" fill="#C42023"/>
<rect x="1425.29" y="888.55" width="2.5" height="1.65" fill="#66A03A"/>
<rect x="1425.29" y="888.4" width="2.5" height="0.15" fill="#C42023"/>
<rect x="1427.79" y="889.15" width="2.5" height="1.05" fill="#66A03A"/>
<rect x="1427.79" y="889" width="2.5" height="0.15" fill="#C42023"/>
<rect x="1430.29" y="887.7" width="2.5" height="2.5" fill="#4A78B4"/>
<rect x="1430.29" y="846.2" width="2.5" height="41.5" fill="#66A03A"/>
<rect x="1430.29" y="842.8" width="2.5" height="3.4" fill="#C42023"/>
<rect x="1432.79" y="887.7" width="2.5" height="2.5" fill="#4A78B4"/>
<rect x="1432.79" y="877" width="2.5" height="10.7" fill="#66A03A"/>
<rect x="1432.79" y="876" width="2.5" height="1" fill="#C42023"/>
<rect x="1435.28" y="887.7" width="2.5" height="2.5" fill="#4A78B4"/>
<rect x="1435.28" y="880.8" width="2.5" height="6.9" fill="#66A03A"/>
<rect x="1435.28" y="880" width="2.5" height="0.8" fill="#C42023"/>
<rect x="1437.78" y="886.2" width="2.5" height="4" fill="#4A78B4"/>
<rect x="1437.78" y="874.9" width="2.5" height="11.3" fill="#66A03A"/>
<rect x="1437.78" y="873.9" width="2.5" height="1" fill="#C42023"/>
<rect x="1440.28" y="883.2" width="2.5" height="7" fill="#4A78B4"/>
<rect x="1440.28" y="863.6" width="2.5" height="19.6" fill="#66A03A"/>
<rect x="1440.28" y="862.4" width="2.5" height="1.2" fill="#C42023"/>
<rect x="1442.78" y="885.7" width="2.5" height="4.5" fill="#4A78B4"/>
<rect x="1442.78" y="868" width="2.5" height="17.7" fill="#66A03A"/>
<rect x="1442.78" y="866.8" width="2.5" height="1.2" fill="#C42023"/>
<rect x="1445.28" y="889.6" width="2.5" height="0.6" fill="#66A03A"/>
<rect x="1447.78" y="885.2" width="2.5" height="5" fill="#4A78B4"/>
<rect x="1447.78" y="868.4" width="2.5" height="16.8" fill="#66A03A"/>
<rect x="1447.78" y="867.2" width="2.5" height="1.2" fill="#C42023"/>
<rect x="1450.28" y="887.7" width="2.5" height="2.5" fill="#4A78B4"/>
<rect x="1450.28" y="873.6" width="2.5" height="14.1" fill="#66A03A"/>
<rect x="1450.28" y="872.6" width="2.5" height="1" fill="#C42023"/>
<rect x="1452.77" y="888.7" width="2.5" height="1.5" fill="#4A78B4"/>
<rect x="1452.77" y="883" width="2.5" height="5.7" fill="#66A03A"/>
<rect x="1452.77" y="882.3" width="2.5" height="0.7" fill="#C42023"/>
<rect x="1455.27" y="889.7" width="2.5" height="0.5" fill="#4A78B4"/>
<rect x="1455.27" y="888.6" width="2.5" height="1.1" fill="#66A03A"/>
<rect x="1455.27" y="888.2" width="2.5" height="0.4" fill="#C42023"/>
<rect x="1457.77" y="889.5" width="2.5" height="0.7" fill="#66A03A"/>
<rect x="1457.77" y="889.2" width="2.5" height="0.3" fill="#C42023"/>
<rect x="1460.27" y="889.2" width="2.5" height="1" fill="#4A78B4"/>
<rect x="1460.27" y="885.4" width="2.5" height="3.8" fill="#66A03A"/>
<rect x="1460.27" y="884.8" width="2.5" height="0.6" fill="#C42023"/>
<rect x="1462.77" y="887.7" width="2.5" height="2.5" fill="#4A78B4"/>
<rect x="1462.77" y="878.5" width="2.5" height="9.2" fill="#66A03A"/>
<rect x="1462.77" y="877.7" width="2.5" height="0.8" fill="#C42023"/>
<rect x="1465.27" y="889" width="2.5" height="1.2" fill="#66A03A"/>
<rect x="1465.27" y="888.6" width="2.5" height="0.4" fill="#C42023"/>
<rect x="1467.76" y="889.5" width="2.5" height="0.7" fill="#66A03A"/>
<rect x="1467.76" y="889.2" width="2.5" height="0.3" fill="#C42023"/>
<rect x="1470.26" y="887.2" width="2.5" height="3" fill="#4A78B4"/>
<rect x="1470.26" y="879.8" width="2.5" height="7.4" fill="#66A03A"/>
<rect x="1470.26" y="879" width="2.5" height="0.8" fill="#C42023"/>
<rect x="1472.76" y="885.7" width="2.5" height="4.5" fill="#4A78B4"/>
<rect x="1472.76" y="870" width="2.5" height="15.7" fill="#66A03A"/>
<rect x="1472.76" y="868.8" width="2.5" height="1.2" fill="#C42023"/>
<rect x="1475.26" y="884.7" width="2.5" height="5.5" fill="#4A78B4"/>
<rect x="1475.26" y="870" width="2.5" height="14.7" fill="#66A03A"/>
<rect x="1475.26" y="868.8" width="2.5" height="1.2" fill="#C42023"/>
<rect x="1477.76" y="885.2" width="2.5" height="5" fill="#4A78B4"/>
<rect x="1477.76" y="868.4" width="2.5" height="16.8" fill="#66A03A"/>
<rect x="1477.76" y="867.2" width="2.5" height="1.2" fill="#C42023"/>
<rect x="1480.26" y="886.7" width="2.5" height="3.5" fill="#4A78B4"/>
<rect x="1480.26" y="872.8" width="2.5" height="13.9" fill="#66A03A"/>
<rect x="1480.26" y="871.6" width="2.5" height="1.2" fill="#C42023"/>
<rect x="1482.75" y="885.7" width="2.5" height="4.5" fill="#4A78B4"/>
<rect x="1482.75" y="871.9" width="2.5" height="13.8" fill="#66A03A"/>
<rect x="1482.75" y="870.7" width="2.5" height="1.2" fill="#C42023"/>
<rect x="1485.25" y="887.7" width="2.5" height="2.5" fill="#4A78B4"/>
<rect x="1485.25" y="877" width="2.5" height="10.7" fill="#66A03A"/>
<rect x="1485.25" y="876" width="2.5" height="1" fill="#C42023"/>
<rect x="1487.75" y="887.2" width="2.5" height="3" fill="#4A78B4"/>
<rect x="1487.75" y="877.7" width="2.5" height="9.5" fill="#66A03A"/>
<rect x="1487.75" y="876.7" width="2.5" height="1" fill="#C42023"/>
<rect x="1490.25" y="887.7" width="2.5" height="2.5" fill="#4A78B4"/>
<rect x="1490.25" y="878.7" width="2.5" height="9" fill="#66A03A"/>
<rect x="1490.25" y="877.7" width="2.5" height="1" fill="#C42023"/>
<rect x="1492.75" y="887.7" width="2.5" height="2.5" fill="#4A78B4"/>
<rect x="1492.75" y="880.4" width="2.5" height="7.3" fill="#66A03A"/>
<rect x="1492.75" y="879.6" width="2.5" height="0.8" fill="#C42023"/>
<rect x="1495.25" y="888.2" width="2.5" height="2" fill="#4A78B4"/>
<rect x="1495.25" y="881.2" width="2.5" height="7" fill="#66A03A"/>
<rect x="1495.25" y="880.4" width="2.5" height="0.8" fill="#C42023"/>
<rect x="1497.74" y="888.2" width="2.5" height="2" fill="#4A78B4"/>
<rect x="1497.74" y="881.2" width="2.5" height="7" fill="#66A03A"/>
<rect x="1497.74" y="880.4" width="2.5" height="0.8" fill="#C42023"/>
<rect x="1500.24" y="887.2" width="2.5" height="3" fill="#4A78B4"/>
<rect x="1500.24" y="877.4" width="2.5" height="9.8" fill="#66A03A"/>
<rect x="1500.24" y="876.4" width="2.5" height="1" fill="#C42023"/>
<rect x="1502.74" y="887.7" width="2.5" height="2.5" fill="#4A78B4"/>
<rect x="1502.74" y="877.7" width="2.5" height="10" fill="#66A03A"/>
<rect x="1502.74" y="876.7" width="2.5" height="1" fill="#C42023"/>
<rect x="1505.24" y="887.7" width="2.5" height="2.5" fill="#4A78B4"/>
<rect x="1505.24" y="877" width="2.5" height="10.7" fill="#66A03A"/>
<rect x="1505.24" y="876" width="2.5" height="1" fill="#C42023"/>
<rect x="1507.74" y="888.2" width="2.5" height="2" fill="#4A78B4"/>
<rect x="1507.74" y="881.8" width="2.5" height="6.4" fill="#66A03A"/>
<rect x="1507.74" y="881" width="2.5" height="0.8" fill="#C42023"/>
<rect x="1510.24" y="887.7" width="2.5" height="2.5" fill="#4A78B4"/>
<rect x="1510.24" y="878.3" width="2.5" height="9.4" fill="#66A03A"/>
<rect x="1510.24" y="877.3" width="2.5" height="1" fill="#C42023"/>
<rect x="1512.74" y="887.2" width="2.5" height="3" fill="#4A78B4"/>
<rect x="1512.74" y="878.7" width="2.5" height="8.5" fill="#66A03A"/>
<rect x="1512.74" y="877.7" width="2.5" height="1" fill="#C42023"/>
<rect x="1515.23" y="887.7" width="2.5" height="2.5" fill="#4A78B4"/>
<rect x="1515.23" y="877.4" width="2.5" height="10.3" fill="#66A03A"/>
<rect x="1515.23" y="876.4" width="2.5" height="1" fill="#C42023"/>
<rect x="1517.73" y="888.85" width="2.5" height="1.35" fill="#66A03A"/>
<rect x="1517.73" y="888.7" width="2.5" height="0.15" fill="#C42023"/>
<rect x="1520.23" y="888.55" width="2.5" height="1.65" fill="#66A03A"/>
<rect x="1520.23" y="888.4" width="2.5" height="0.15" fill="#C42023"/>
<rect x="1522.73" y="889.15" width="2.5" height="1.05" fill="#66A03A"/>
<rect x="1522.73" y="889" width="2.5" height="0.15" fill="#C42023"/>
<rect x="1525.23" y="889.45" width="2.5" height="0.75" fill="#66A03A"/>
<rect x="1525.23" y="889.3" width="2.5" height="0.15" fill="#C42023"/>
<rect x="1527.73" y="889.45" width="2.5" height="0.75" fill="#66A03A"/>
<rect x="1527.73" y="889.3" width="2.5" height="0.15" fill="#C42023"/>
<rect x="1530.22" y="888.85" width="2.5" height="1.35" fill="#66A03A"/>
<rect x="1530.22" y="888.7" width="2.5" height="0.15" fill="#C42023"/>
<rect x="1532.72" y="888.55" width="2.5" height="1.65" fill="#66A03A"/>
<rect x="1532.72" y="888.4" width="2.5" height="0.15" fill="#C42023"/>
<rect x="1535.22" y="888.75" width="2.5" height="1.45" fill="#66A03A"/>
<rect x="1535.22" y="888.6" width="2.5" height="0.15" fill="#C42023"/>
<rect x="1537.72" y="889.45" width="2.5" height="0.75" fill="#66A03A"/>
<rect x="1537.72" y="889.3" width="2.5" height="0.15" fill="#C42023"/>
<rect x="1540.22" y="889.45" width="2.5" height="0.75" fill="#66A03A"/>
<rect x="1540.22" y="889.3" width="2.5" height="0.15" fill="#C42023"/>
<rect x="1542.72" y="889.35" width="2.5" height="0.85" fill="#66A03A"/>
<rect x="1542.72" y="889.2" width="2.5" height="0.15" fill="#C42023"/>
<rect x="1545.21" y="888.85" width="2.5" height="1.35" fill="#66A03A"/>
<rect x="1545.21" y="888.7" width="2.5" height="0.15" fill="#C42023"/>
<rect x="1547.71" y="889.35" width="2.5" height="0.85" fill="#66A03A"/>
<rect x="1547.71" y="889.2" width="2.5" height="0.15" fill="#C42023"/>
<rect x="1550.21" y="888.2" width="2.5" height="2" fill="#4A78B4"/>
<rect x="1550.21" y="881.5" width="2.5" height="6.7" fill="#66A03A"/>
<rect x="1550.21" y="880.7" width="2.5" height="0.8" fill="#C42023"/>
<rect x="1552.71" y="889.9" width="2.5" height="0.3" fill="#4A78B4"/>
<rect x="1552.71" y="888.9" width="2.5" height="1" fill="#66A03A"/>
<rect x="1552.71" y="888.6" width="2.5" height="0.3" fill="#C42023"/>
<rect x="1555.21" y="889" width="2.5" height="1.2" fill="#66A03A"/>
<rect x="1555.21" y="888.7" width="2.5" height="0.3" fill="#C42023"/>
<rect x="1557.71" y="888.75" width="2.5" height="1.45" fill="#66A03A"/>
<rect x="1557.71" y="888.6" width="2.5" height="0.15" fill="#C42023"/>
<path d="M931.8 779.3H938.6M937.4 782.2V890.5H931.2" stroke="#000" stroke-width="2.3" fill="none"/>
<text transform="translate(933.8 782.8) scale(0.950 1.000)" font-size="14.4" text-anchor="end">9462</text>
<text transform="translate(927.2 893.4) scale(0.950 1.000)" font-size="14.4" text-anchor="end">0</text>
<text x="917.4" y="830.8" font-size="14.4" text-anchor="middle" transform="rotate(-90 917.4 830.8)">TMB</text>
<path d="M943.1 898h2.5v40.6h-2.5zM948.1 898h7.5v40.6h-7.5zM960.59 898h7.5v40.6h-7.5zM973.08 898h2.5v40.6h-2.5zM980.58 898h5v40.6h-5zM993.07 898h7.5v40.6h-7.5zM1003.06 898h7.5v40.6h-7.5zM1020.55 898h2.5v40.6h-2.5zM1028.05 898h5v40.6h-5zM1038.04 898h5v40.6h-5zM1045.53 898h5v40.6h-5zM1053.03 898h12.49v40.6h-12.49zM1073.02 898h5v40.6h-5zM1080.51 898h7.5v40.6h-7.5zM1090.51 898h7.5v40.6h-7.5zM1103 898h2.5v40.6h-2.5zM1107.99 898h2.5v40.6h-2.5zM1120.49 898h5v40.6h-5zM1130.48 898h2.5v40.6h-2.5zM1135.48 898h2.5v40.6h-2.5zM1140.47 898h2.5v40.6h-2.5zM1147.97 898h2.5v40.6h-2.5zM1152.97 898h7.5v40.6h-7.5zM1162.96 898h2.5v40.6h-2.5zM1167.96 898h14.99v40.6h-14.99zM1192.94 898h7.5v40.6h-7.5zM1202.93 898h2.5v40.6h-2.5zM1207.93 898h2.5v40.6h-2.5zM1212.93 898h2.5v40.6h-2.5zM1217.92 898h5v40.6h-5zM1225.42 898h17.49v40.6h-17.49zM1245.41 898h2.5v40.6h-2.5zM1250.4 898h2.5v40.6h-2.5zM1255.4 898h5v40.6h-5zM1267.89 898h2.5v40.6h-2.5zM1272.89 898h5v40.6h-5zM1280.38 898h2.5v40.6h-2.5zM1295.37 898h2.5v40.6h-2.5zM1310.36 898h7.5v40.6h-7.5zM1322.86 898h2.5v40.6h-2.5zM1327.85 898h2.5v40.6h-2.5zM1332.85 898h2.5v40.6h-2.5zM1337.85 898h5v40.6h-5zM1345.34 898h9.99v40.6h-9.99zM1360.33 898h2.5v40.6h-2.5zM1380.32 898h2.5v40.6h-2.5zM1385.32 898h2.5v40.6h-2.5zM1390.31 898h5v40.6h-5zM1400.31 898h2.5v40.6h-2.5zM1405.3 898h7.5v40.6h-7.5zM1415.3 898h7.5v40.6h-7.5z" fill="#000000"/>
<path d="M945.6 898h2.5v40.6h-2.5zM955.59 898h2.5v40.6h-2.5zM968.08 898h2.5v40.6h-2.5zM975.58 898h2.5v40.6h-2.5zM985.57 898h5v40.6h-5zM1018.05 898h2.5v40.6h-2.5zM1023.05 898h2.5v40.6h-2.5zM1033.04 898h2.5v40.6h-2.5zM1043.04 898h2.5v40.6h-2.5zM1065.52 898h2.5v40.6h-2.5zM1100.5 898h2.5v40.6h-2.5zM1110.49 898h2.5v40.6h-2.5zM1115.49 898h2.5v40.6h-2.5zM1142.97 898h2.5v40.6h-2.5zM1182.95 898h2.5v40.6h-2.5zM1187.94 898h5v40.6h-5zM1205.43 898h2.5v40.6h-2.5zM1222.92 898h2.5v40.6h-2.5zM1247.9 898h2.5v40.6h-2.5zM1252.9 898h2.5v40.6h-2.5zM1260.4 898h2.5v40.6h-2.5zM1265.39 898h2.5v40.6h-2.5zM1287.88 898h7.5v40.6h-7.5zM1297.87 898h5v40.6h-5zM1307.87 898h2.5v40.6h-2.5zM1317.86 898h5v40.6h-5zM1330.35 898h2.5v40.6h-2.5zM1335.35 898h2.5v40.6h-2.5zM1342.84 898h2.5v40.6h-2.5zM1357.83 898h2.5v40.6h-2.5zM1377.82 898h2.5v40.6h-2.5zM1387.82 898h2.5v40.6h-2.5zM1395.31 898h5v40.6h-5zM1402.81 898h2.5v40.6h-2.5zM1422.79 898h2.5v40.6h-2.5z" fill="#C42023"/>
<path d="M958.09 898h2.5v40.6h-2.5zM978.08 898h2.5v40.6h-2.5zM990.57 898h2.5v40.6h-2.5zM1013.06 898h2.5v40.6h-2.5zM1035.54 898h2.5v40.6h-2.5zM1050.53 898h2.5v40.6h-2.5zM1078.01 898h2.5v40.6h-2.5zM1112.99 898h2.5v40.6h-2.5zM1145.47 898h2.5v40.6h-2.5zM1270.39 898h2.5v40.6h-2.5zM1277.89 898h2.5v40.6h-2.5zM1282.88 898h5v40.6h-5zM1362.83 898h2.5v40.6h-2.5zM1367.83 898h5v40.6h-5z" fill="#643C96"/>
<path d="M970.58 898h2.5v40.6h-2.5zM1000.56 898h2.5v40.6h-2.5zM1088.01 898h2.5v40.6h-2.5zM1127.98 898h2.5v40.6h-2.5zM1150.47 898h2.5v40.6h-2.5zM1160.46 898h2.5v40.6h-2.5zM1165.46 898h2.5v40.6h-2.5z" fill="#66A03A"/>
<path d="M1010.56 898h2.5v40.6h-2.5zM1015.55 898h2.5v40.6h-2.5zM1025.55 898h2.5v40.6h-2.5zM1068.02 898h5v40.6h-5zM1098 898h2.5v40.6h-2.5zM1105.5 898h2.5v40.6h-2.5zM1117.99 898h2.5v40.6h-2.5zM1125.48 898h2.5v40.6h-2.5zM1132.98 898h2.5v40.6h-2.5zM1137.98 898h2.5v40.6h-2.5zM1185.44 898h2.5v40.6h-2.5zM1200.44 898h2.5v40.6h-2.5zM1215.43 898h2.5v40.6h-2.5zM1242.91 898h2.5v40.6h-2.5zM1262.9 898h2.5v40.6h-2.5zM1305.37 898h2.5v40.6h-2.5zM1325.36 898h2.5v40.6h-2.5zM1355.34 898h2.5v40.6h-2.5zM1365.33 898h2.5v40.6h-2.5zM1372.82 898h5v40.6h-5zM1382.82 898h2.5v40.6h-2.5zM1412.8 898h2.5v40.6h-2.5z" fill="#4A78B4"/>
<path d="M1210.43 898h2.5v40.6h-2.5zM1302.87 898h2.5v40.6h-2.5z" fill="#E5801F"/>
<path d="M1425.29 898h134.91v40.6h-134.91z" fill="#CCCCCC"/>
<path d="M943.1 940.15h5v40.6h-5zM950.6 940.15h5v40.6h-5zM958.09 940.15h2.5v40.6h-2.5zM963.09 940.15h5v40.6h-5zM970.58 940.15h9.99v40.6h-9.99zM998.06 940.15h17.49v40.6h-17.49zM1033.04 940.15h2.5v40.6h-2.5zM1080.51 940.15h12.49v40.6h-12.49zM1095.5 940.15h2.5v40.6h-2.5zM1103 940.15h7.5v40.6h-7.5zM1112.99 940.15h2.5v40.6h-2.5zM1117.99 940.15h2.5v40.6h-2.5zM1127.98 940.15h2.5v40.6h-2.5zM1132.98 940.15h9.99v40.6h-9.99zM1147.97 940.15h7.5v40.6h-7.5zM1160.46 940.15h7.5v40.6h-7.5zM1170.45 940.15h2.5v40.6h-2.5zM1175.45 940.15h2.5v40.6h-2.5zM1430.29 940.15h5v40.6h-5zM1437.78 940.15h7.5v40.6h-7.5zM1447.78 940.15h5v40.6h-5zM1460.27 940.15h5v40.6h-5zM1470.26 940.15h24.98v40.6h-24.98zM1497.74 940.15h12.49v40.6h-12.49zM1512.74 940.15h5v40.6h-5z" fill="#000000"/>
<path d="M948.1 940.15h2.5v40.6h-2.5zM955.59 940.15h2.5v40.6h-2.5zM960.59 940.15h2.5v40.6h-2.5zM968.08 940.15h2.5v40.6h-2.5zM983.07 940.15h14.99v40.6h-14.99zM1015.55 940.15h5v40.6h-5zM1023.05 940.15h7.5v40.6h-7.5zM1035.54 940.15h44.97v40.6h-44.97zM1093 940.15h2.5v40.6h-2.5zM1098 940.15h5v40.6h-5zM1110.49 940.15h2.5v40.6h-2.5zM1120.49 940.15h7.5v40.6h-7.5zM1130.48 940.15h2.5v40.6h-2.5zM1142.97 940.15h2.5v40.6h-2.5zM1155.46 940.15h5v40.6h-5zM1167.96 940.15h2.5v40.6h-2.5zM1172.95 940.15h2.5v40.6h-2.5zM1177.95 940.15h12.49v40.6h-12.49zM1425.29 940.15h5v40.6h-5zM1435.28 940.15h2.5v40.6h-2.5zM1445.28 940.15h2.5v40.6h-2.5zM1452.77 940.15h7.5v40.6h-7.5zM1465.27 940.15h5v40.6h-5zM1510.24 940.15h2.5v40.6h-2.5zM1517.73 940.15h2.5v40.6h-2.5z" fill="#66A03A"/>
<path d="M980.58 940.15h2.5v40.6h-2.5zM1020.55 940.15h2.5v40.6h-2.5z" fill="#E5801F"/>
<path d="M1030.54 940.15h2.5v40.6h-2.5z" fill="#C42023"/>
<path d="M1115.49 940.15h2.5v40.6h-2.5zM1145.47 940.15h2.5v40.6h-2.5zM1495.25 940.15h2.5v40.6h-2.5z" fill="#4A78B4"/>
<path d="M1190.44 940.15h234.85v40.6h-234.85zM1520.23 940.15h39.97v40.6h-39.97z" fill="#CCCCCC"/>
<path d="M943.1 982.3h2.5v40.6h-2.5zM1033.04 982.3h5v40.6h-5zM1043.04 982.3h2.5v40.6h-2.5zM1245.41 982.3h2.5v40.6h-2.5zM1260.4 982.3h2.5v40.6h-2.5zM1535.22 982.3h2.5v40.6h-2.5z" fill="#000000"/>
<path d="M945.6 982.3h17.49v40.6h-17.49zM965.59 982.3h5v40.6h-5zM973.08 982.3h7.5v40.6h-7.5zM983.07 982.3h7.5v40.6h-7.5zM993.07 982.3h7.5v40.6h-7.5zM1003.06 982.3h9.99v40.6h-9.99zM1018.05 982.3h9.99v40.6h-9.99zM1030.54 982.3h2.5v40.6h-2.5zM1038.04 982.3h5v40.6h-5zM1048.03 982.3h9.99v40.6h-9.99zM1060.52 982.3h7.5v40.6h-7.5zM1073.02 982.3h7.5v40.6h-7.5zM1192.94 982.3h5v40.6h-5zM1200.44 982.3h2.5v40.6h-2.5zM1205.43 982.3h2.5v40.6h-2.5zM1210.43 982.3h2.5v40.6h-2.5zM1215.43 982.3h14.99v40.6h-14.99zM1232.91 982.3h5v40.6h-5zM1247.9 982.3h5v40.6h-5zM1255.4 982.3h5v40.6h-5zM1262.9 982.3h2.5v40.6h-2.5zM1267.89 982.3h2.5v40.6h-2.5zM1275.39 982.3h14.99v40.6h-14.99zM1292.88 982.3h14.99v40.6h-14.99zM1310.36 982.3h2.5v40.6h-2.5zM1315.36 982.3h2.5v40.6h-2.5zM1425.29 982.3h2.5v40.6h-2.5zM1430.29 982.3h7.5v40.6h-7.5zM1445.28 982.3h2.5v40.6h-2.5zM1520.23 982.3h14.99v40.6h-14.99zM1537.72 982.3h2.5v40.6h-2.5z" fill="#66A03A"/>
<path d="M963.09 982.3h2.5v40.6h-2.5zM970.58 982.3h2.5v40.6h-2.5zM1045.53 982.3h2.5v40.6h-2.5zM1207.93 982.3h2.5v40.6h-2.5zM1212.93 982.3h2.5v40.6h-2.5zM1237.91 982.3h5v40.6h-5zM1252.9 982.3h2.5v40.6h-2.5zM1265.39 982.3h2.5v40.6h-2.5zM1307.87 982.3h2.5v40.6h-2.5zM1427.79 982.3h2.5v40.6h-2.5zM1437.78 982.3h2.5v40.6h-2.5z" fill="#C42023"/>
<path d="M980.58 982.3h2.5v40.6h-2.5zM990.57 982.3h2.5v40.6h-2.5zM1068.02 982.3h2.5v40.6h-2.5zM1190.44 982.3h2.5v40.6h-2.5zM1230.42 982.3h2.5v40.6h-2.5z" fill="#643C96"/>
<path d="M1000.56 982.3h2.5v40.6h-2.5zM1013.06 982.3h2.5v40.6h-2.5zM1058.03 982.3h2.5v40.6h-2.5zM1202.93 982.3h2.5v40.6h-2.5zM1242.91 982.3h2.5v40.6h-2.5zM1272.89 982.3h2.5v40.6h-2.5zM1290.38 982.3h2.5v40.6h-2.5zM1440.28 982.3h5v40.6h-5z" fill="#4A78B4"/>
<path d="M1015.55 982.3h2.5v40.6h-2.5zM1070.52 982.3h2.5v40.6h-2.5z" fill="#E5801F"/>
<path d="M1028.05 982.3h2.5v40.6h-2.5zM1270.39 982.3h2.5v40.6h-2.5zM1312.86 982.3h2.5v40.6h-2.5z" fill="#FFFFA0"/>
<path d="M1080.51 982.3h109.93v40.6h-109.93zM1317.86 982.3h107.43v40.6h-107.43zM1447.78 982.3h72.45v40.6h-72.45zM1540.22 982.3h19.99v40.6h-19.99z" fill="#CCCCCC"/>
<path d="M1197.94 982.3h2.5v40.6h-2.5z" fill="#BE3A58"/>
<path d="M943.1 1024.45h2.5v40.6h-2.5zM1090.51 1024.45h2.5v40.6h-2.5zM1520.23 1024.45h2.5v40.6h-2.5z" fill="#000000"/>
<path d="M945.6 1024.45h52.47v40.6h-52.47zM1080.51 1024.45h9.99v40.6h-9.99zM1093 1024.45h54.96v40.6h-54.96zM1190.44 1024.45h47.47v40.6h-47.47zM1317.86 1024.45h47.47v40.6h-47.47zM1425.29 1024.45h5v40.6h-5zM1447.78 1024.45h22.49v40.6h-22.49zM1522.73 1024.45h5v40.6h-5zM1540.22 1024.45h9.99v40.6h-9.99z" fill="#66A03A"/>
<path d="M998.06 1024.45h82.45v40.6h-82.45zM1147.97 1024.45h42.47v40.6h-42.47zM1237.91 1024.45h79.95v40.6h-79.95zM1365.33 1024.45h59.96v40.6h-59.96zM1430.29 1024.45h17.49v40.6h-17.49zM1470.26 1024.45h49.97v40.6h-49.97zM1527.73 1024.45h12.49v40.6h-12.49zM1550.21 1024.45h9.99v40.6h-9.99z" fill="#CCCCCC"/>
<path d="M943.1 1066.6h5v40.6h-5zM998.06 1066.6h2.5v40.6h-2.5zM1005.56 1066.6h7.5v40.6h-7.5zM1080.51 1066.6h5v40.6h-5zM1088.01 1066.6h5v40.6h-5zM1095.5 1066.6h2.5v40.6h-2.5zM1100.5 1066.6h2.5v40.6h-2.5zM1105.5 1066.6h2.5v40.6h-2.5zM1147.97 1066.6h7.5v40.6h-7.5zM1162.96 1066.6h5v40.6h-5zM1247.9 1066.6h2.5v40.6h-2.5zM1322.86 1066.6h7.5v40.6h-7.5zM1367.83 1066.6h2.5v40.6h-2.5zM1430.29 1066.6h14.99v40.6h-14.99zM1447.78 1066.6h5v40.6h-5zM1475.26 1066.6h7.5v40.6h-7.5zM1490.25 1066.6h5v40.6h-5zM1497.74 1066.6h2.5v40.6h-2.5zM1552.71 1066.6h2.5v40.6h-2.5z" fill="#000000"/>
<path d="M948.1 1066.6h9.99v40.6h-9.99zM1000.56 1066.6h5v40.6h-5zM1013.06 1066.6h7.5v40.6h-7.5zM1085.51 1066.6h2.5v40.6h-2.5zM1093 1066.6h2.5v40.6h-2.5zM1098 1066.6h2.5v40.6h-2.5zM1103 1066.6h2.5v40.6h-2.5zM1107.99 1066.6h5v40.6h-5zM1115.49 1066.6h2.5v40.6h-2.5zM1155.46 1066.6h7.5v40.6h-7.5zM1190.44 1066.6h7.5v40.6h-7.5zM1237.91 1066.6h9.99v40.6h-9.99zM1317.86 1066.6h5v40.6h-5zM1365.33 1066.6h2.5v40.6h-2.5zM1370.33 1066.6h7.5v40.6h-7.5zM1425.29 1066.6h2.5v40.6h-2.5zM1455.27 1066.6h5v40.6h-5zM1470.26 1066.6h5v40.6h-5zM1485.25 1066.6h5v40.6h-5zM1495.25 1066.6h2.5v40.6h-2.5zM1520.23 1066.6h2.5v40.6h-2.5z" fill="#66A03A"/>
<path d="M958.09 1066.6h39.97v40.6h-39.97zM1020.55 1066.6h59.96v40.6h-59.96zM1117.99 1066.6h29.98v40.6h-29.98zM1167.96 1066.6h22.49v40.6h-22.49zM1197.94 1066.6h39.97v40.6h-39.97zM1250.4 1066.6h67.46v40.6h-67.46zM1330.35 1066.6h34.98v40.6h-34.98zM1377.82 1066.6h47.47v40.6h-47.47zM1427.79 1066.6h2.5v40.6h-2.5zM1445.28 1066.6h2.5v40.6h-2.5zM1462.77 1066.6h7.5v40.6h-7.5zM1502.74 1066.6h17.49v40.6h-17.49zM1522.73 1066.6h27.48v40.6h-27.48zM1555.21 1066.6h5v40.6h-5z" fill="#CCCCCC"/>
<path d="M1112.99 1066.6h2.5v40.6h-2.5z" fill="#C42023"/>
<path d="M1452.77 1066.6h2.5v40.6h-2.5zM1460.27 1066.6h2.5v40.6h-2.5zM1482.75 1066.6h2.5v40.6h-2.5zM1550.21 1066.6h2.5v40.6h-2.5z" fill="#4A78B4"/>
<path d="M1500.24 1066.6h2.5v40.6h-2.5z" fill="#E5801F"/>
<path d="M943.1 1108.75h2.5v40.6h-2.5zM948.1 1108.75h2.5v40.6h-2.5zM958.09 1108.75h2.5v40.6h-2.5zM998.06 1108.75h2.5v40.6h-2.5zM1020.55 1108.75h2.5v40.6h-2.5zM1028.05 1108.75h2.5v40.6h-2.5zM1080.51 1108.75h12.49v40.6h-12.49zM1095.5 1108.75h2.5v40.6h-2.5zM1120.49 1108.75h2.5v40.6h-2.5zM1147.97 1108.75h7.5v40.6h-7.5zM1160.46 1108.75h2.5v40.6h-2.5zM1197.94 1108.75h5v40.6h-5zM1432.79 1108.75h2.5v40.6h-2.5zM1442.78 1108.75h2.5v40.6h-2.5zM1447.78 1108.75h7.5v40.6h-7.5zM1472.76 1108.75h5v40.6h-5zM1480.26 1108.75h2.5v40.6h-2.5zM1485.25 1108.75h2.5v40.6h-2.5zM1490.25 1108.75h5v40.6h-5zM1505.24 1108.75h2.5v40.6h-2.5zM1527.73 1108.75h2.5v40.6h-2.5z" fill="#000000"/>
<path d="M945.6 1108.75h2.5v40.6h-2.5zM950.6 1108.75h2.5v40.6h-2.5zM960.59 1108.75h5v40.6h-5zM1000.56 1108.75h5v40.6h-5zM1023.05 1108.75h5v40.6h-5zM1030.54 1108.75h2.5v40.6h-2.5zM1093 1108.75h2.5v40.6h-2.5zM1098 1108.75h2.5v40.6h-2.5zM1117.99 1108.75h2.5v40.6h-2.5zM1122.98 1108.75h2.5v40.6h-2.5zM1155.46 1108.75h5v40.6h-5zM1170.45 1108.75h2.5v40.6h-2.5zM1202.93 1108.75h2.5v40.6h-2.5zM1237.91 1108.75h2.5v40.6h-2.5zM1250.4 1108.75h14.99v40.6h-14.99zM1317.86 1108.75h5v40.6h-5zM1330.35 1108.75h2.5v40.6h-2.5zM1365.33 1108.75h2.5v40.6h-2.5zM1377.82 1108.75h9.99v40.6h-9.99zM1427.79 1108.75h5v40.6h-5zM1435.28 1108.75h7.5v40.6h-7.5zM1470.26 1108.75h2.5v40.6h-2.5zM1477.76 1108.75h2.5v40.6h-2.5zM1502.74 1108.75h2.5v40.6h-2.5zM1507.74 1108.75h2.5v40.6h-2.5zM1555.21 1108.75h2.5v40.6h-2.5z" fill="#66A03A"/>
<path d="M953.09 1108.75h5v40.6h-5zM965.59 1108.75h32.48v40.6h-32.48zM1005.56 1108.75h14.99v40.6h-14.99zM1035.54 1108.75h44.97v40.6h-44.97zM1103 1108.75h14.99v40.6h-14.99zM1125.48 1108.75h22.49v40.6h-22.49zM1162.96 1108.75h5v40.6h-5zM1172.95 1108.75h24.98v40.6h-24.98zM1205.43 1108.75h32.48v40.6h-32.48zM1240.41 1108.75h9.99v40.6h-9.99zM1265.39 1108.75h52.47v40.6h-52.47zM1322.86 1108.75h7.5v40.6h-7.5zM1332.85 1108.75h32.48v40.6h-32.48zM1367.83 1108.75h9.99v40.6h-9.99zM1387.82 1108.75h39.97v40.6h-39.97zM1445.28 1108.75h2.5v40.6h-2.5zM1455.27 1108.75h14.99v40.6h-14.99zM1495.25 1108.75h7.5v40.6h-7.5zM1510.24 1108.75h17.49v40.6h-17.49zM1530.22 1108.75h24.98v40.6h-24.98zM1557.71 1108.75h2.5v40.6h-2.5z" fill="#CCCCCC"/>
<path d="M1033.04 1108.75h2.5v40.6h-2.5zM1100.5 1108.75h2.5v40.6h-2.5zM1167.96 1108.75h2.5v40.6h-2.5z" fill="#C42023"/>
<path d="M1482.75 1108.75h2.5v40.6h-2.5zM1487.75 1108.75h2.5v40.6h-2.5z" fill="#4A78B4"/>
<path d="M943.1 1150.9h2.5v40.6h-2.5zM948.1 1150.9h2.5v40.6h-2.5zM998.06 1150.9h2.5v40.6h-2.5zM1008.06 1150.9h2.5v40.6h-2.5zM1035.54 1150.9h2.5v40.6h-2.5zM1080.51 1150.9h7.5v40.6h-7.5zM1090.51 1150.9h2.5v40.6h-2.5zM1103 1150.9h2.5v40.6h-2.5zM1107.99 1150.9h2.5v40.6h-2.5zM1130.48 1150.9h2.5v40.6h-2.5zM1147.97 1150.9h2.5v40.6h-2.5zM1152.97 1150.9h2.5v40.6h-2.5zM1162.96 1150.9h2.5v40.6h-2.5zM1172.95 1150.9h2.5v40.6h-2.5zM1335.35 1150.9h2.5v40.6h-2.5zM1367.83 1150.9h2.5v40.6h-2.5zM1377.82 1150.9h2.5v40.6h-2.5zM1430.29 1150.9h7.5v40.6h-7.5zM1440.28 1150.9h2.5v40.6h-2.5zM1447.78 1150.9h5v40.6h-5zM1470.26 1150.9h2.5v40.6h-2.5zM1475.26 1150.9h2.5v40.6h-2.5zM1482.75 1150.9h2.5v40.6h-2.5zM1502.74 1150.9h5v40.6h-5zM1512.74 1150.9h2.5v40.6h-2.5z" fill="#000000"/>
<path d="M945.6 1150.9h2.5v40.6h-2.5zM965.59 1150.9h5v40.6h-5zM1000.56 1150.9h7.5v40.6h-7.5zM1038.04 1150.9h2.5v40.6h-2.5zM1043.04 1150.9h2.5v40.6h-2.5zM1105.5 1150.9h2.5v40.6h-2.5zM1117.99 1150.9h5v40.6h-5zM1125.48 1150.9h5v40.6h-5zM1150.47 1150.9h2.5v40.6h-2.5zM1155.46 1150.9h5v40.6h-5zM1175.45 1150.9h2.5v40.6h-2.5zM1205.43 1150.9h2.5v40.6h-2.5zM1240.41 1150.9h2.5v40.6h-2.5zM1250.4 1150.9h2.5v40.6h-2.5zM1265.39 1150.9h5v40.6h-5zM1322.86 1150.9h2.5v40.6h-2.5zM1330.35 1150.9h2.5v40.6h-2.5zM1337.85 1150.9h2.5v40.6h-2.5zM1370.33 1150.9h2.5v40.6h-2.5zM1380.32 1150.9h2.5v40.6h-2.5zM1390.31 1150.9h2.5v40.6h-2.5zM1427.79 1150.9h2.5v40.6h-2.5zM1437.78 1150.9h2.5v40.6h-2.5zM1455.27 1150.9h5v40.6h-5zM1462.77 1150.9h2.5v40.6h-2.5zM1472.76 1150.9h2.5v40.6h-2.5zM1477.76 1150.9h5v40.6h-5zM1485.25 1150.9h2.5v40.6h-2.5zM1510.24 1150.9h2.5v40.6h-2.5zM1515.23 1150.9h2.5v40.6h-2.5zM1522.73 1150.9h2.5v40.6h-2.5zM1530.22 1150.9h2.5v40.6h-2.5zM1550.21 1150.9h2.5v40.6h-2.5z" fill="#66A03A"/>
<path d="M950.6 1150.9h14.99v40.6h-14.99zM970.58 1150.9h27.48v40.6h-27.48zM1010.56 1150.9h24.98v40.6h-24.98zM1045.53 1150.9h34.98v40.6h-34.98zM1093 1150.9h9.99v40.6h-9.99zM1110.49 1150.9h7.5v40.6h-7.5zM1122.98 1150.9h2.5v40.6h-2.5zM1132.98 1150.9h14.99v40.6h-14.99zM1160.46 1150.9h2.5v40.6h-2.5zM1165.46 1150.9h7.5v40.6h-7.5zM1177.95 1150.9h27.48v40.6h-27.48zM1207.93 1150.9h32.48v40.6h-32.48zM1242.91 1150.9h7.5v40.6h-7.5zM1252.9 1150.9h12.49v40.6h-12.49zM1270.39 1150.9h52.47v40.6h-52.47zM1325.36 1150.9h5v40.6h-5zM1340.35 1150.9h27.48v40.6h-27.48zM1372.82 1150.9h5v40.6h-5zM1382.82 1150.9h5v40.6h-5zM1392.81 1150.9h34.98v40.6h-34.98zM1442.78 1150.9h5v40.6h-5zM1452.77 1150.9h2.5v40.6h-2.5zM1460.27 1150.9h2.5v40.6h-2.5zM1465.27 1150.9h5v40.6h-5zM1487.75 1150.9h14.99v40.6h-14.99zM1507.74 1150.9h2.5v40.6h-2.5zM1517.73 1150.9h5v40.6h-5zM1525.23 1150.9h5v40.6h-5zM1532.72 1150.9h17.49v40.6h-17.49zM1552.71 1150.9h7.5v40.6h-7.5z" fill="#CCCCCC"/>
<path d="M1040.54 1150.9h2.5v40.6h-2.5zM1088.01 1150.9h2.5v40.6h-2.5z" fill="#4A78B4"/>
<path d="M1332.85 1150.9h2.5v40.6h-2.5zM1387.82 1150.9h2.5v40.6h-2.5z" fill="#C42023"/>
<path d="M943.1 1193.05h2.5v40.6h-2.5zM1005.56 1193.05h2.5v40.6h-2.5zM1080.51 1193.05h5v40.6h-5zM1105.5 1193.05h2.5v40.6h-2.5zM1152.97 1193.05h2.5v40.6h-2.5zM1190.44 1193.05h2.5v40.6h-2.5zM1317.86 1193.05h2.5v40.6h-2.5zM1332.85 1193.05h2.5v40.6h-2.5zM1340.35 1193.05h2.5v40.6h-2.5zM1385.32 1193.05h2.5v40.6h-2.5zM1445.28 1193.05h2.5v40.6h-2.5zM1497.74 1193.05h2.5v40.6h-2.5zM1540.22 1193.05h2.5v40.6h-2.5z" fill="#000000"/>
<path d="M945.6 1193.05h5v40.6h-5zM958.09 1193.05h2.5v40.6h-2.5zM965.59 1193.05h2.5v40.6h-2.5zM970.58 1193.05h9.99v40.6h-9.99zM998.06 1193.05h2.5v40.6h-2.5zM1020.55 1193.05h5v40.6h-5zM1035.54 1193.05h2.5v40.6h-2.5zM1085.51 1193.05h5v40.6h-5zM1093 1193.05h2.5v40.6h-2.5zM1103 1193.05h2.5v40.6h-2.5zM1110.49 1193.05h2.5v40.6h-2.5zM1117.99 1193.05h2.5v40.6h-2.5zM1125.48 1193.05h2.5v40.6h-2.5zM1132.98 1193.05h2.5v40.6h-2.5zM1147.97 1193.05h5v40.6h-5zM1155.46 1193.05h2.5v40.6h-2.5zM1160.46 1193.05h5v40.6h-5zM1172.95 1193.05h2.5v40.6h-2.5zM1177.95 1193.05h5v40.6h-5zM1192.94 1193.05h2.5v40.6h-2.5zM1207.93 1193.05h9.99v40.6h-9.99zM1252.9 1193.05h2.5v40.6h-2.5zM1270.39 1193.05h5v40.6h-5zM1322.86 1193.05h2.5v40.6h-2.5zM1327.85 1193.05h2.5v40.6h-2.5zM1342.84 1193.05h2.5v40.6h-2.5zM1377.82 1193.05h2.5v40.6h-2.5zM1382.82 1193.05h2.5v40.6h-2.5zM1387.82 1193.05h2.5v40.6h-2.5zM1392.81 1193.05h2.5v40.6h-2.5zM1427.79 1193.05h5v40.6h-5zM1447.78 1193.05h2.5v40.6h-2.5zM1452.77 1193.05h2.5v40.6h-2.5zM1465.27 1193.05h9.99v40.6h-9.99zM1487.75 1193.05h5v40.6h-5zM1502.74 1193.05h2.5v40.6h-2.5zM1510.24 1193.05h2.5v40.6h-2.5zM1520.23 1193.05h5v40.6h-5zM1530.22 1193.05h2.5v40.6h-2.5zM1542.72 1193.05h7.5v40.6h-7.5z" fill="#66A03A"/>
<path d="M950.6 1193.05h7.5v40.6h-7.5zM960.59 1193.05h5v40.6h-5zM968.08 1193.05h2.5v40.6h-2.5zM980.58 1193.05h17.49v40.6h-17.49zM1000.56 1193.05h5v40.6h-5zM1008.06 1193.05h12.49v40.6h-12.49zM1025.55 1193.05h9.99v40.6h-9.99zM1038.04 1193.05h42.47v40.6h-42.47zM1090.51 1193.05h2.5v40.6h-2.5zM1095.5 1193.05h7.5v40.6h-7.5zM1107.99 1193.05h2.5v40.6h-2.5zM1112.99 1193.05h5v40.6h-5zM1120.49 1193.05h5v40.6h-5zM1127.98 1193.05h5v40.6h-5zM1135.48 1193.05h12.49v40.6h-12.49zM1157.96 1193.05h2.5v40.6h-2.5zM1165.46 1193.05h7.5v40.6h-7.5zM1175.45 1193.05h2.5v40.6h-2.5zM1182.95 1193.05h7.5v40.6h-7.5zM1195.44 1193.05h12.49v40.6h-12.49zM1217.92 1193.05h34.98v40.6h-34.98zM1255.4 1193.05h14.99v40.6h-14.99zM1275.39 1193.05h42.47v40.6h-42.47zM1320.36 1193.05h2.5v40.6h-2.5zM1330.35 1193.05h2.5v40.6h-2.5zM1335.35 1193.05h5v40.6h-5zM1345.34 1193.05h32.48v40.6h-32.48zM1380.32 1193.05h2.5v40.6h-2.5zM1390.31 1193.05h2.5v40.6h-2.5zM1395.31 1193.05h32.48v40.6h-32.48zM1432.79 1193.05h12.49v40.6h-12.49zM1450.28 1193.05h2.5v40.6h-2.5zM1455.27 1193.05h9.99v40.6h-9.99zM1475.26 1193.05h12.49v40.6h-12.49zM1492.75 1193.05h2.5v40.6h-2.5zM1500.24 1193.05h2.5v40.6h-2.5zM1505.24 1193.05h5v40.6h-5zM1512.74 1193.05h7.5v40.6h-7.5zM1525.23 1193.05h5v40.6h-5zM1532.72 1193.05h7.5v40.6h-7.5zM1550.21 1193.05h9.99v40.6h-9.99z" fill="#CCCCCC"/>
<path d="M1325.36 1193.05h2.5v40.6h-2.5zM1495.25 1193.05h2.5v40.6h-2.5z" fill="#FFFFA0"/>
<path d="M943.1 1235.2h2.5v40.6h-2.5zM973.08 1235.2h2.5v40.6h-2.5zM1008.06 1235.2h5v40.6h-5zM1080.51 1235.2h7.5v40.6h-7.5zM1090.51 1235.2h2.5v40.6h-2.5zM1103 1235.2h2.5v40.6h-2.5zM1127.98 1235.2h2.5v40.6h-2.5zM1147.97 1235.2h2.5v40.6h-2.5zM1152.97 1235.2h2.5v40.6h-2.5zM1160.46 1235.2h2.5v40.6h-2.5zM1165.46 1235.2h2.5v40.6h-2.5zM1175.45 1235.2h2.5v40.6h-2.5zM1250.4 1235.2h2.5v40.6h-2.5zM1345.34 1235.2h2.5v40.6h-2.5zM1437.78 1235.2h2.5v40.6h-2.5zM1442.78 1235.2h2.5v40.6h-2.5zM1447.78 1235.2h5v40.6h-5zM1462.77 1235.2h5v40.6h-5zM1472.76 1235.2h5v40.6h-5zM1505.24 1235.2h2.5v40.6h-2.5z" fill="#000000"/>
<path d="M945.6 1235.2h2.5v40.6h-2.5zM980.58 1235.2h5v40.6h-5zM998.06 1235.2h2.5v40.6h-2.5zM1025.55 1235.2h2.5v40.6h-2.5zM1035.54 1235.2h5v40.6h-5zM1045.53 1235.2h2.5v40.6h-2.5zM1105.5 1235.2h2.5v40.6h-2.5zM1125.48 1235.2h2.5v40.6h-2.5zM1150.47 1235.2h2.5v40.6h-2.5zM1182.95 1235.2h2.5v40.6h-2.5zM1197.94 1235.2h2.5v40.6h-2.5zM1275.39 1235.2h2.5v40.6h-2.5zM1317.86 1235.2h5v40.6h-5zM1325.36 1235.2h2.5v40.6h-2.5zM1340.35 1235.2h2.5v40.6h-2.5zM1347.84 1235.2h2.5v40.6h-2.5zM1367.83 1235.2h2.5v40.6h-2.5zM1377.82 1235.2h2.5v40.6h-2.5zM1430.29 1235.2h7.5v40.6h-7.5zM1445.28 1235.2h2.5v40.6h-2.5zM1452.77 1235.2h2.5v40.6h-2.5zM1460.27 1235.2h2.5v40.6h-2.5zM1470.26 1235.2h2.5v40.6h-2.5zM1477.76 1235.2h5v40.6h-5zM1487.75 1235.2h5v40.6h-5zM1495.25 1235.2h5v40.6h-5zM1502.74 1235.2h2.5v40.6h-2.5zM1512.74 1235.2h2.5v40.6h-2.5zM1530.22 1235.2h2.5v40.6h-2.5zM1550.21 1235.2h2.5v40.6h-2.5z" fill="#66A03A"/>
<path d="M948.1 1235.2h22.49v40.6h-22.49zM975.58 1235.2h5v40.6h-5zM985.57 1235.2h12.49v40.6h-12.49zM1000.56 1235.2h7.5v40.6h-7.5zM1013.06 1235.2h12.49v40.6h-12.49zM1028.05 1235.2h7.5v40.6h-7.5zM1040.54 1235.2h5v40.6h-5zM1048.03 1235.2h32.48v40.6h-32.48zM1088.01 1235.2h2.5v40.6h-2.5zM1093 1235.2h9.99v40.6h-9.99zM1107.99 1235.2h17.49v40.6h-17.49zM1130.48 1235.2h17.49v40.6h-17.49zM1155.46 1235.2h5v40.6h-5zM1162.96 1235.2h2.5v40.6h-2.5zM1167.96 1235.2h7.5v40.6h-7.5zM1177.95 1235.2h5v40.6h-5zM1185.44 1235.2h12.49v40.6h-12.49zM1200.44 1235.2h17.49v40.6h-17.49zM1220.42 1235.2h29.98v40.6h-29.98zM1252.9 1235.2h22.49v40.6h-22.49zM1277.89 1235.2h39.97v40.6h-39.97zM1322.86 1235.2h2.5v40.6h-2.5zM1327.85 1235.2h12.49v40.6h-12.49zM1342.84 1235.2h2.5v40.6h-2.5zM1350.34 1235.2h17.49v40.6h-17.49zM1370.33 1235.2h7.5v40.6h-7.5zM1380.32 1235.2h49.97v40.6h-49.97zM1440.28 1235.2h2.5v40.6h-2.5zM1455.27 1235.2h5v40.6h-5zM1467.76 1235.2h2.5v40.6h-2.5zM1482.75 1235.2h5v40.6h-5zM1492.75 1235.2h2.5v40.6h-2.5zM1500.24 1235.2h2.5v40.6h-2.5zM1507.74 1235.2h5v40.6h-5zM1515.23 1235.2h14.99v40.6h-14.99zM1532.72 1235.2h17.49v40.6h-17.49zM1552.71 1235.2h7.5v40.6h-7.5z" fill="#CCCCCC"/>
<path d="M970.58 1235.2h2.5v40.6h-2.5z" fill="#4A78B4"/>
<path d="M1217.92 1235.2h2.5v40.6h-2.5z" fill="#643C96"/>
<path d="M943.1 1277.35h2.5v40.6h-2.5zM998.06 1277.35h2.5v40.6h-2.5zM1005.56 1277.35h5v40.6h-5zM1080.51 1277.35h5v40.6h-5zM1088.01 1277.35h2.5v40.6h-2.5zM1152.97 1277.35h2.5v40.6h-2.5zM1162.96 1277.35h2.5v40.6h-2.5zM1197.94 1277.35h2.5v40.6h-2.5zM1207.93 1277.35h2.5v40.6h-2.5zM1250.4 1277.35h2.5v40.6h-2.5zM1332.85 1277.35h2.5v40.6h-2.5zM1367.83 1277.35h2.5v40.6h-2.5zM1430.29 1277.35h2.5v40.6h-2.5zM1472.76 1277.35h2.5v40.6h-2.5zM1500.24 1277.35h2.5v40.6h-2.5zM1505.24 1277.35h2.5v40.6h-2.5zM1512.74 1277.35h2.5v40.6h-2.5z" fill="#000000"/>
<path d="M945.6 1277.35h5v40.6h-5zM960.59 1277.35h2.5v40.6h-2.5zM970.58 1277.35h2.5v40.6h-2.5zM1035.54 1277.35h2.5v40.6h-2.5zM1040.54 1277.35h2.5v40.6h-2.5zM1048.03 1277.35h2.5v40.6h-2.5zM1085.51 1277.35h2.5v40.6h-2.5zM1095.5 1277.35h2.5v40.6h-2.5zM1112.99 1277.35h2.5v40.6h-2.5zM1147.97 1277.35h2.5v40.6h-2.5zM1155.46 1277.35h2.5v40.6h-2.5zM1165.46 1277.35h5v40.6h-5zM1190.44 1277.35h2.5v40.6h-2.5zM1200.44 1277.35h2.5v40.6h-2.5zM1205.43 1277.35h2.5v40.6h-2.5zM1240.41 1277.35h2.5v40.6h-2.5zM1252.9 1277.35h5v40.6h-5zM1270.39 1277.35h5v40.6h-5zM1322.86 1277.35h2.5v40.6h-2.5zM1370.33 1277.35h2.5v40.6h-2.5zM1380.32 1277.35h5v40.6h-5zM1432.79 1277.35h9.99v40.6h-9.99zM1455.27 1277.35h2.5v40.6h-2.5zM1460.27 1277.35h5v40.6h-5zM1475.26 1277.35h5v40.6h-5zM1515.23 1277.35h2.5v40.6h-2.5zM1520.23 1277.35h2.5v40.6h-2.5zM1525.23 1277.35h5v40.6h-5zM1552.71 1277.35h2.5v40.6h-2.5z" fill="#66A03A"/>
<path d="M950.6 1277.35h9.99v40.6h-9.99zM963.09 1277.35h7.5v40.6h-7.5zM973.08 1277.35h24.98v40.6h-24.98zM1000.56 1277.35h5v40.6h-5zM1010.56 1277.35h24.98v40.6h-24.98zM1038.04 1277.35h2.5v40.6h-2.5zM1043.04 1277.35h5v40.6h-5zM1050.53 1277.35h29.98v40.6h-29.98zM1090.51 1277.35h5v40.6h-5zM1098 1277.35h5v40.6h-5zM1107.99 1277.35h5v40.6h-5zM1115.49 1277.35h32.48v40.6h-32.48zM1157.96 1277.35h5v40.6h-5zM1170.45 1277.35h19.99v40.6h-19.99zM1192.94 1277.35h5v40.6h-5zM1202.93 1277.35h2.5v40.6h-2.5zM1210.43 1277.35h29.98v40.6h-29.98zM1242.91 1277.35h7.5v40.6h-7.5zM1257.9 1277.35h12.49v40.6h-12.49zM1275.39 1277.35h47.47v40.6h-47.47zM1325.36 1277.35h7.5v40.6h-7.5zM1335.35 1277.35h32.48v40.6h-32.48zM1372.82 1277.35h7.5v40.6h-7.5zM1385.32 1277.35h44.97v40.6h-44.97zM1442.78 1277.35h5v40.6h-5zM1450.28 1277.35h5v40.6h-5zM1457.77 1277.35h2.5v40.6h-2.5zM1465.27 1277.35h5v40.6h-5zM1480.26 1277.35h2.5v40.6h-2.5zM1485.25 1277.35h9.99v40.6h-9.99zM1497.74 1277.35h2.5v40.6h-2.5zM1502.74 1277.35h2.5v40.6h-2.5zM1507.74 1277.35h5v40.6h-5zM1517.73 1277.35h2.5v40.6h-2.5zM1522.73 1277.35h2.5v40.6h-2.5zM1530.22 1277.35h22.49v40.6h-22.49zM1555.21 1277.35h5v40.6h-5z" fill="#CCCCCC"/>
<path d="M1103 1277.35h2.5v40.6h-2.5zM1150.47 1277.35h2.5v40.6h-2.5zM1447.78 1277.35h2.5v40.6h-2.5zM1470.26 1277.35h2.5v40.6h-2.5zM1482.75 1277.35h2.5v40.6h-2.5zM1495.25 1277.35h2.5v40.6h-2.5z" fill="#4A78B4"/>
<path d="M1105.5 1277.35h2.5v40.6h-2.5z" fill="#643C96"/>
<path d="M943.1 898v419.95M945.6 898v419.95M948.1 898v419.95M950.6 898v419.95M953.09 898v419.95M955.59 898v419.95M958.09 898v419.95M960.59 898v419.95M963.09 898v419.95M965.59 898v419.95M968.08 898v419.95M970.58 898v419.95M973.08 898v419.95M975.58 898v419.95M978.08 898v419.95M980.58 898v419.95M983.07 898v419.95M985.57 898v419.95M988.07 898v419.95M990.57 898v419.95M993.07 898v419.95M995.57 898v419.95M998.06 898v419.95M1000.56 898v419.95M1003.06 898v419.95M1005.56 898v419.95M1008.06 898v419.95M1010.56 898v419.95M1013.06 898v419.95M1015.55 898v419.95M1018.05 898v419.95M1020.55 898v419.95M1023.05 898v419.95M1025.55 898v419.95M1028.05 898v419.95M1030.54 898v419.95M1033.04 898v419.95M1035.54 898v419.95M1038.04 898v419.95M1040.54 898v419.95M1043.04 898v419.95M1045.53 898v419.95M1048.03 898v419.95M1050.53 898v419.95M1053.03 898v419.95M1055.53 898v419.95M1058.03 898v419.95M1060.52 898v419.95M1063.02 898v419.95M1065.52 898v419.95M1068.02 898v419.95M1070.52 898v419.95M1073.02 898v419.95M1075.52 898v419.95M1078.01 898v419.95M1080.51 898v419.95M1083.01 898v419.95M1085.51 898v419.95M1088.01 898v419.95M1090.51 898v419.95M1093 898v419.95M1095.5 898v419.95M1098 898v419.95M1100.5 898v419.95M1103 898v419.95M1105.5 898v419.95M1107.99 898v419.95M1110.49 898v419.95M1112.99 898v419.95M1115.49 898v419.95M1117.99 898v419.95M1120.49 898v419.95M1122.98 898v419.95M1125.48 898v419.95M1127.98 898v419.95M1130.48 898v419.95M1132.98 898v419.95M1135.48 898v419.95M1137.98 898v419.95M1140.47 898v419.95M1142.97 898v419.95M1145.47 898v419.95M1147.97 898v419.95M1150.47 898v419.95M1152.97 898v419.95M1155.46 898v419.95M1157.96 898v419.95M1160.46 898v419.95M1162.96 898v419.95M1165.46 898v419.95M1167.96 898v419.95M1170.45 898v419.95M1172.95 898v419.95M1175.45 898v419.95M1177.95 898v419.95M1180.45 898v419.95M1182.95 898v419.95M1185.44 898v419.95M1187.94 898v419.95M1190.44 898v419.95M1192.94 898v419.95M1195.44 898v419.95M1197.94 898v419.95M1200.44 898v419.95M1202.93 898v419.95M1205.43 898v419.95M1207.93 898v419.95M1210.43 898v419.95M1212.93 898v419.95M1215.43 898v419.95M1217.92 898v419.95M1220.42 898v419.95M1222.92 898v419.95M1225.42 898v419.95M1227.92 898v419.95M1230.42 898v419.95M1232.91 898v419.95M1235.41 898v419.95M1237.91 898v419.95M1240.41 898v419.95M1242.91 898v419.95M1245.41 898v419.95M1247.9 898v419.95M1250.4 898v419.95M1252.9 898v419.95M1255.4 898v419.95M1257.9 898v419.95M1260.4 898v419.95M1262.9 898v419.95M1265.39 898v419.95M1267.89 898v419.95M1270.39 898v419.95M1272.89 898v419.95M1275.39 898v419.95M1277.89 898v419.95M1280.38 898v419.95M1282.88 898v419.95M1285.38 898v419.95M1287.88 898v419.95M1290.38 898v419.95M1292.88 898v419.95M1295.37 898v419.95M1297.87 898v419.95M1300.37 898v419.95M1302.87 898v419.95M1305.37 898v419.95M1307.87 898v419.95M1310.36 898v419.95M1312.86 898v419.95M1315.36 898v419.95M1317.86 898v419.95M1320.36 898v419.95M1322.86 898v419.95M1325.36 898v419.95M1327.85 898v419.95M1330.35 898v419.95M1332.85 898v419.95M1335.35 898v419.95M1337.85 898v419.95M1340.35 898v419.95M1342.84 898v419.95M1345.34 898v419.95M1347.84 898v419.95M1350.34 898v419.95M1352.84 898v419.95M1355.34 898v419.95M1357.83 898v419.95M1360.33 898v419.95M1362.83 898v419.95M1365.33 898v419.95M1367.83 898v419.95M1370.33 898v419.95M1372.82 898v419.95M1375.32 898v419.95M1377.82 898v419.95M1380.32 898v419.95M1382.82 898v419.95M1385.32 898v419.95M1387.82 898v419.95M1390.31 898v419.95M1392.81 898v419.95M1395.31 898v419.95M1397.81 898v419.95M1400.31 898v419.95M1402.81 898v419.95M1405.3 898v419.95M1407.8 898v419.95M1410.3 898v419.95M1412.8 898v419.95M1415.3 898v419.95M1417.8 898v419.95M1420.29 898v419.95M1422.79 898v419.95M1425.29 898v419.95M1427.79 898v419.95M1430.29 898v419.95M1432.79 898v419.95M1435.28 898v419.95M1437.78 898v419.95M1440.28 898v419.95M1442.78 898v419.95M1445.28 898v419.95M1447.78 898v419.95M1450.28 898v419.95M1452.77 898v419.95M1455.27 898v419.95M1457.77 898v419.95M1460.27 898v419.95M1462.77 898v419.95M1465.27 898v419.95M1467.76 898v419.95M1470.26 898v419.95M1472.76 898v419.95M1475.26 898v419.95M1477.76 898v419.95M1480.26 898v419.95M1482.75 898v419.95M1485.25 898v419.95M1487.75 898v419.95M1490.25 898v419.95M1492.75 898v419.95M1495.25 898v419.95M1497.74 898v419.95M1500.24 898v419.95M1502.74 898v419.95M1505.24 898v419.95M1507.74 898v419.95M1510.24 898v419.95M1512.74 898v419.95M1515.23 898v419.95M1517.73 898v419.95M1520.23 898v419.95M1522.73 898v419.95M1525.23 898v419.95M1527.73 898v419.95M1530.22 898v419.95M1532.72 898v419.95M1535.22 898v419.95M1537.72 898v419.95M1540.22 898v419.95M1542.72 898v419.95M1545.21 898v419.95M1547.71 898v419.95M1550.21 898v419.95M1552.71 898v419.95M1555.21 898v419.95M1557.71 898v419.95M1560.2 898v419.95" stroke="#fff" stroke-width="1" stroke-opacity="0.5" fill="none"/>
<text x="935.7" y="922.4" font-size="13.8" text-anchor="end" font-style="italic">APC</text>
<text x="935.7" y="964.55" font-size="13.8" text-anchor="end" font-style="italic">TTN</text>
<text x="935.7" y="1006.7" font-size="13.8" text-anchor="end" font-style="italic">TP53</text>
<text x="935.7" y="1048.85" font-size="13.8" text-anchor="end" font-style="italic">KRAS</text>
<text x="935.7" y="1091" font-size="13.8" text-anchor="end" font-style="italic">MUC16</text>
<text x="935.7" y="1133.15" font-size="13.8" text-anchor="end" font-style="italic">SYNE1</text>
<text x="935.7" y="1175.3" font-size="13.8" text-anchor="end" font-style="italic">FAT4</text>
<text x="935.7" y="1217.45" font-size="13.8" text-anchor="end" font-style="italic">PIK3CA</text>
<text x="935.7" y="1259.6" font-size="13.8" text-anchor="end" font-style="italic">OBSCN</text>
<text x="935.7" y="1301.75" font-size="13.8" text-anchor="end" font-style="italic">ZFHX4</text>
<text transform="translate(1561.7 923.1) scale(0.985 1.140)" font-size="13.9">78%</text>
<text transform="translate(1561.7 965.25) scale(0.985 1.140)" font-size="13.9">55%</text>
<text transform="translate(1561.7 1007.4) scale(0.985 1.140)" font-size="13.9">50%</text>
<text transform="translate(1561.7 1049.55) scale(0.985 1.140)" font-size="13.9">43%</text>
<text transform="translate(1561.7 1091.7) scale(0.985 1.140)" font-size="13.9">34%</text>
<text transform="translate(1561.7 1133.85) scale(0.985 1.140)" font-size="13.9">32%</text>
<text transform="translate(1561.7 1176) scale(0.985 1.140)" font-size="13.9">31%</text>
<text transform="translate(1561.7 1218.15) scale(0.985 1.140)" font-size="13.9">31%</text>
<text transform="translate(1561.7 1260.3) scale(0.985 1.140)" font-size="13.9">27%</text>
<text transform="translate(1561.7 1302.45) scale(0.985 1.140)" font-size="13.9">27%</text>
<path d="M1595.6 887.5V894.6H1762.6V887.5" stroke="#000" stroke-width="2.3" fill="none"/>
<text transform="translate(1597.2 880.4) scale(0.920 1.000)" font-size="14.4" text-anchor="middle">0</text>
<text transform="translate(1758.8 880.4) scale(0.920 1.000)" font-size="14.4" text-anchor="middle">193</text>
<text x="1696.5" y="888.9" font-size="13.8" text-anchor="middle">No. of samples</text>
<rect x="1595.9" y="901.8" width="6.03" height="37.6" fill="#66A03A"/>
<rect x="1601.93" y="901.8" width="36.19" height="37.6" fill="#C42023"/>
<rect x="1638.12" y="901.8" width="1.72" height="37.6" fill="#E5801F"/>
<rect x="1639.85" y="901.8" width="20.68" height="37.6" fill="#4A78B4"/>
<rect x="1660.53" y="901.8" width="13.79" height="37.6" fill="#643C96"/>
<rect x="1674.31" y="901.8" width="87.89" height="37.6" fill="#000000"/>
<rect x="1595.9" y="943.95" width="53.43" height="37.6" fill="#66A03A"/>
<rect x="1649.33" y="943.95" width="0.86" height="37.6" fill="#C42023"/>
<rect x="1650.19" y="943.95" width="1.72" height="37.6" fill="#E5801F"/>
<rect x="1651.91" y="943.95" width="2.59" height="37.6" fill="#4A78B4"/>
<rect x="1654.5" y="943.95" width="59.46" height="37.6" fill="#000000"/>
<rect x="1595.9" y="986.1" width="72.38" height="37.6" fill="#66A03A"/>
<rect x="1668.28" y="986.1" width="10.34" height="37.6" fill="#C42023"/>
<rect x="1678.62" y="986.1" width="1.72" height="37.6" fill="#E5801F"/>
<rect x="1680.35" y="986.1" width="7.76" height="37.6" fill="#4A78B4"/>
<rect x="1688.1" y="986.1" width="4.31" height="37.6" fill="#643C96"/>
<rect x="1692.41" y="986.1" width="2.59" height="37.6" fill="#FFFFA0"/>
<rect x="1695" y="986.1" width="0.86" height="37.6" fill="#BE3A58"/>
<rect x="1695.86" y="986.1" width="6.03" height="37.6" fill="#000000"/>
<rect x="1595.9" y="1028.25" width="87.89" height="37.6" fill="#66A03A"/>
<rect x="1683.79" y="1028.25" width="2.59" height="37.6" fill="#000000"/>
<rect x="1595.9" y="1070.4" width="35.33" height="37.6" fill="#66A03A"/>
<rect x="1631.23" y="1070.4" width="0.86" height="37.6" fill="#C42023"/>
<rect x="1632.09" y="1070.4" width="0.86" height="37.6" fill="#E5801F"/>
<rect x="1632.95" y="1070.4" width="3.45" height="37.6" fill="#4A78B4"/>
<rect x="1636.4" y="1070.4" width="32.74" height="37.6" fill="#000000"/>
<rect x="1595.9" y="1112.55" width="36.19" height="37.6" fill="#66A03A"/>
<rect x="1632.09" y="1112.55" width="2.59" height="37.6" fill="#C42023"/>
<rect x="1634.68" y="1112.55" width="1.72" height="37.6" fill="#4A78B4"/>
<rect x="1636.4" y="1112.55" width="27.57" height="37.6" fill="#000000"/>
<rect x="1595.9" y="1154.7" width="36.19" height="37.6" fill="#66A03A"/>
<rect x="1632.09" y="1154.7" width="1.72" height="37.6" fill="#C42023"/>
<rect x="1633.81" y="1154.7" width="1.72" height="37.6" fill="#4A78B4"/>
<rect x="1635.54" y="1154.7" width="26.71" height="37.6" fill="#000000"/>
<rect x="1595.9" y="1196.85" width="52.56" height="37.6" fill="#66A03A"/>
<rect x="1648.46" y="1196.85" width="1.72" height="37.6" fill="#FFFFA0"/>
<rect x="1650.19" y="1196.85" width="12.06" height="37.6" fill="#000000"/>
<rect x="1595.9" y="1239" width="32.74" height="37.6" fill="#66A03A"/>
<rect x="1628.64" y="1239" width="0.86" height="37.6" fill="#4A78B4"/>
<rect x="1629.51" y="1239" width="0.86" height="37.6" fill="#643C96"/>
<rect x="1630.37" y="1239" width="22.4" height="37.6" fill="#000000"/>
<rect x="1595.9" y="1281.15" width="34.47" height="37.6" fill="#66A03A"/>
<rect x="1630.37" y="1281.15" width="5.17" height="37.6" fill="#4A78B4"/>
<rect x="1635.54" y="1281.15" width="0.86" height="37.6" fill="#643C96"/>
<rect x="1636.4" y="1281.15" width="16.37" height="37.6" fill="#000000"/>
<rect x="1029.2" y="1335.4" width="5.7" height="5.8" fill="#643C96"/>
<rect x="1029.2" y="1349.5" width="5.7" height="5.8" fill="#FFFFA0"/>
<rect x="1029.2" y="1363.6" width="5.7" height="5.8" fill="#BE3A58"/>
<rect x="1029.2" y="1377.7" width="5.7" height="5.8" fill="#000000"/>
<rect x="898.3" y="1332" width="5.7" height="5.7" fill="#66A03A"/>
<text x="911.8" y="1342.6" font-size="13.85">Missense_Mutation</text>
<rect x="898.3" y="1346.1" width="5.7" height="5.7" fill="#C42023"/>
<text x="911.8" y="1356.75" font-size="13.85">Nonsense_Mutation</text>
<rect x="898.3" y="1360.2" width="5.7" height="5.7" fill="#E5801F"/>
<text x="911.8" y="1370.9" font-size="13.85">Splice_Site</text>
<rect x="898.3" y="1374.3" width="5.7" height="5.7" fill="#4A78B4"/>
<text x="911.8" y="1385.05" font-size="13.85">Frame_Shift_Del</text>
<text x="1042.9" y="1342.6" font-size="13.85">Frame_Shift_Ins</text>
<text x="1042.9" y="1356.75" font-size="13.85">In_Frame_Del</text>
<text x="1042.9" y="1370.9" font-size="13.85">In_Frame_Ins</text>
<text x="1042.9" y="1385.05" font-size="13.85">Multi_Hit</text>
</g>
</svg>
</body></html>
